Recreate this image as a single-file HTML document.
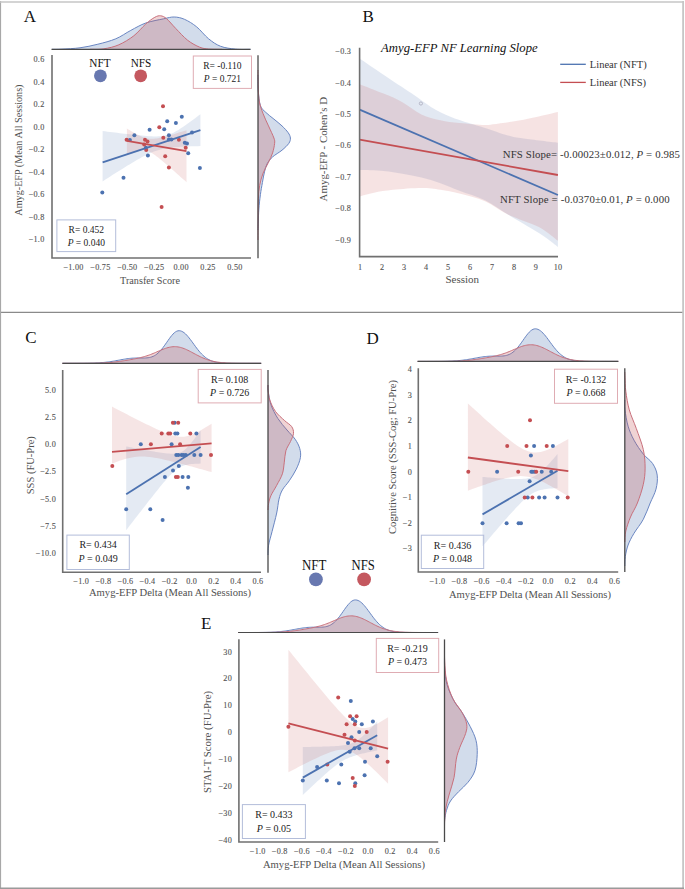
<!DOCTYPE html><html><head><meta charset="utf-8"><style>html,body{margin:0;padding:0;background:#fff;width:685px;height:889px;overflow:hidden}svg{display:block}text{font-family:"Liberation Serif",serif}</style></head><body><svg width="685" height="889" viewBox="0 0 685 889" font-family="Liberation Serif, serif">
<rect x="0" y="0" width="685" height="889" fill="#fff"/>
<text x="23.8" y="21.9" font-size="17" text-anchor="start" fill="#111" >A</text>
<path d="M52,49.3 C53.67,49.27 57.33,49.35 62,49.1 C66.67,48.85 74.02,48.62 80,47.8 C85.98,46.98 91.93,45.7 97.9,44.2 C103.87,42.7 110.32,41.1 115.8,38.8 C121.28,36.5 125.8,33.03 130.8,30.4 C135.8,27.77 140.32,24.93 145.8,23 C151.28,21.07 158.97,19.8 163.7,18.8 C168.43,17.8 170.7,16.9 174.2,17 C177.7,17.1 180.95,17.75 184.7,19.4 C188.45,21.05 192.72,23.67 196.7,26.9 C200.68,30.13 204.62,35.57 208.6,38.8 C212.58,42.03 216.1,44.58 220.6,46.3 C225.1,48.02 230.62,48.6 235.6,49.1 C240.58,49.6 248.02,49.27 250.5,49.3 L250.5,49.3 L52,49.3Z" fill="#4C72B0" fill-opacity="0.25" stroke="none"/>
<path d="M52,49.3 C53.67,49.27 57.33,49.35 62,49.1 C66.67,48.85 74.02,48.62 80,47.8 C85.98,46.98 91.93,45.7 97.9,44.2 C103.87,42.7 110.32,41.1 115.8,38.8 C121.28,36.5 125.8,33.03 130.8,30.4 C135.8,27.77 140.32,24.93 145.8,23 C151.28,21.07 158.97,19.8 163.7,18.8 C168.43,17.8 170.7,16.9 174.2,17 C177.7,17.1 180.95,17.75 184.7,19.4 C188.45,21.05 192.72,23.67 196.7,26.9 C200.68,30.13 204.62,35.57 208.6,38.8 C212.58,42.03 216.1,44.58 220.6,46.3 C225.1,48.02 230.62,48.6 235.6,49.1 C240.58,49.6 248.02,49.27 250.5,49.3" fill="none" stroke="#6a86c2" stroke-width="1.0"/>
<path d="M90,49.3 C92.32,49.22 99.1,49.55 103.9,48.8 C108.7,48.05 113.82,46.97 118.8,44.8 C123.78,42.63 129.3,39.28 133.8,35.8 C138.3,32.32 142.3,26.98 145.8,23.9 C149.3,20.82 152.32,18.65 154.8,17.3 C157.28,15.95 158.72,15.55 160.7,15.8 C162.68,16.05 164.2,16.7 166.7,18.8 C169.2,20.9 172.2,24.82 175.7,28.4 C179.2,31.98 183.7,37.17 187.7,40.3 C191.7,43.43 196.22,45.75 199.7,47.2 C203.18,48.65 204.88,48.65 208.6,49 C212.32,49.35 219.77,49.25 222,49.3 L222,49.3 L90,49.3Z" fill="#C44E52" fill-opacity="0.25" stroke="none"/>
<path d="M90,49.3 C92.32,49.22 99.1,49.55 103.9,48.8 C108.7,48.05 113.82,46.97 118.8,44.8 C123.78,42.63 129.3,39.28 133.8,35.8 C138.3,32.32 142.3,26.98 145.8,23.9 C149.3,20.82 152.32,18.65 154.8,17.3 C157.28,15.95 158.72,15.55 160.7,15.8 C162.68,16.05 164.2,16.7 166.7,18.8 C169.2,20.9 172.2,24.82 175.7,28.4 C179.2,31.98 183.7,37.17 187.7,40.3 C191.7,43.43 196.22,45.75 199.7,47.2 C203.18,48.65 204.88,48.65 208.6,49 C212.32,49.35 219.77,49.25 222,49.3" fill="none" stroke="#c8707c" stroke-width="1.0"/>
<line x1="51.5" y1="49.3" x2="250.5" y2="49.3" stroke="#4a4a4a" stroke-width="1.2" />
<path d="M102.6,131 L105.04,131.31 L107.49,131.63 L109.94,131.94 L112.38,132.25 L114.82,132.55 L117.27,132.86 L119.72,133.16 L122.16,133.45 L124.6,133.75 L127.05,134.04 L129.5,134.32 L131.94,134.59 L134.38,134.86 L136.83,135.12 L139.28,135.37 L141.72,135.6 L144.16,135.82 L146.61,136.01 L149.06,136.18 L151.5,136.3 L153.94,136.39 L156.39,136.41 L158.83,136.34 L161.28,136.17 L163.73,135.85 L166.17,135.36 L168.62,134.66 L171.06,133.75 L173.5,132.64 L175.95,131.34 L178.39,129.91 L180.84,128.36 L183.29,126.73 L185.73,125.04 L188.18,123.3 L190.62,121.53 L193.06,119.73 L195.51,117.9 L197.95,116.06 L200.4,114.2 L200.4,146.1 L197.95,146.15 L195.51,146.21 L193.06,146.27 L190.62,146.35 L188.18,146.43 L185.73,146.53 L183.29,146.65 L180.84,146.78 L178.39,146.94 L175.95,147.12 L173.5,147.34 L171.06,147.61 L168.62,147.92 L166.17,148.3 L163.73,148.75 L161.28,149.3 L158.83,149.94 L156.39,150.69 L153.94,151.55 L151.5,152.52 L149.06,153.59 L146.61,154.75 L144.16,155.99 L141.72,157.28 L139.28,158.63 L136.83,160.02 L134.38,161.45 L131.94,162.9 L129.5,164.38 L127.05,165.87 L124.6,167.39 L122.16,168.91 L119.72,170.45 L117.27,171.99 L114.82,173.55 L112.38,175.11 L109.94,176.67 L107.49,178.24 L105.04,179.82 L102.6,181.4Z" fill="#4C72B0" fill-opacity="0.15"/>
<path d="M126.9,128.5 L128.39,129.43 L129.88,130.34 L131.37,131.24 L132.86,132.12 L134.35,132.97 L135.84,133.8 L137.33,134.59 L138.82,135.34 L140.31,136.04 L141.8,136.68 L143.29,137.25 L144.78,137.74 L146.27,138.14 L147.76,138.44 L149.25,138.64 L150.74,138.75 L152.23,138.77 L153.72,138.7 L155.21,138.57 L156.7,138.38 L158.19,138.14 L159.68,137.87 L161.17,137.55 L162.66,137.22 L164.15,136.85 L165.64,136.47 L167.13,136.08 L168.62,135.67 L170.11,135.25 L171.6,134.82 L173.09,134.38 L174.58,133.93 L176.07,133.48 L177.56,133.02 L179.05,132.56 L180.54,132.1 L182.03,131.63 L183.52,131.15 L185.01,130.68 L186.5,130.2 L186.5,182.2 L185.01,180.87 L183.52,179.54 L182.03,178.21 L180.54,176.88 L179.05,175.56 L177.56,174.24 L176.07,172.92 L174.58,171.6 L173.09,170.29 L171.6,168.99 L170.11,167.68 L168.62,166.39 L167.13,165.1 L165.64,163.82 L164.15,162.55 L162.66,161.29 L161.17,160.05 L159.68,158.82 L158.19,157.62 L156.7,156.45 L155.21,155.31 L153.72,154.23 L152.23,153.21 L150.74,152.27 L149.25,151.45 L147.76,150.76 L146.27,150.25 L144.78,149.92 L143.29,149.8 L141.8,149.85 L140.31,150.07 L138.82,150.42 L137.33,150.87 L135.84,151.39 L134.35,151.98 L132.86,152.6 L131.37,153.27 L129.88,153.96 L128.39,154.67 L126.9,155.4Z" fill="#C44E52" fill-opacity="0.15"/>
<circle cx="102.3" cy="192.6" r="2.0" fill="#4C72B0"/>
<circle cx="123.5" cy="177.7" r="2.0" fill="#4C72B0"/>
<circle cx="134.4" cy="135.2" r="2.0" fill="#4C72B0"/>
<circle cx="129.9" cy="139.9" r="2.0" fill="#4C72B0"/>
<circle cx="149.6" cy="129.7" r="2.0" fill="#4C72B0"/>
<circle cx="147.9" cy="155.4" r="2.0" fill="#4C72B0"/>
<circle cx="145.9" cy="147.8" r="2.0" fill="#4C72B0"/>
<circle cx="167.2" cy="121.3" r="2.0" fill="#4C72B0"/>
<circle cx="164.2" cy="129.3" r="2.0" fill="#4C72B0"/>
<circle cx="175.9" cy="123.1" r="2.0" fill="#4C72B0"/>
<circle cx="181.8" cy="116.8" r="2.0" fill="#4C72B0"/>
<circle cx="168.9" cy="135.2" r="2.0" fill="#4C72B0"/>
<circle cx="168.9" cy="139.4" r="2.0" fill="#4C72B0"/>
<circle cx="171.4" cy="139.4" r="2.0" fill="#4C72B0"/>
<circle cx="192" cy="132.4" r="2.0" fill="#4C72B0"/>
<circle cx="184.8" cy="142.8" r="2.0" fill="#4C72B0"/>
<circle cx="187" cy="143.6" r="2.0" fill="#4C72B0"/>
<circle cx="188.2" cy="153.3" r="2.0" fill="#4C72B0"/>
<circle cx="199.9" cy="168" r="2.0" fill="#4C72B0"/>
<circle cx="163" cy="106.3" r="2.0" fill="#C44E52"/>
<circle cx="159.3" cy="127.3" r="2.0" fill="#C44E52"/>
<circle cx="163.3" cy="137.7" r="2.0" fill="#C44E52"/>
<circle cx="126.6" cy="139.7" r="2.0" fill="#C44E52"/>
<circle cx="145" cy="139.7" r="2.0" fill="#C44E52"/>
<circle cx="147.5" cy="141.6" r="2.0" fill="#C44E52"/>
<circle cx="144.2" cy="144.4" r="2.0" fill="#C44E52"/>
<circle cx="146.2" cy="150" r="2.0" fill="#C44E52"/>
<circle cx="178.9" cy="139.7" r="2.0" fill="#C44E52"/>
<circle cx="185.7" cy="147.8" r="2.0" fill="#C44E52"/>
<circle cx="165.2" cy="156.2" r="2.0" fill="#C44E52"/>
<circle cx="168.9" cy="167.4" r="2.0" fill="#C44E52"/>
<circle cx="161.6" cy="207" r="2.0" fill="#C44E52"/>
<line x1="102.6" y1="162.4" x2="200.4" y2="130.2" stroke="#4C72B0" stroke-width="1.8" />
<line x1="126.9" y1="140.8" x2="186.5" y2="151.2" stroke="#C44E52" stroke-width="1.8" />
<polyline points="52,55 52,258 251,258" fill="none" stroke="#707070" stroke-width="1.6"/>
<path d="M258,75 C258.03,77.5 257.8,84.9 258.2,90 C258.6,95.1 259.13,101.87 260.4,105.6 C261.67,109.33 263.55,110.15 265.8,112.4 C268.05,114.65 271.2,116.85 273.9,119.1 C276.6,121.35 279.63,123.65 282,125.9 C284.37,128.15 286.7,130.58 288.1,132.6 C289.5,134.62 290.28,136.2 290.4,138 C290.52,139.8 290.2,141.37 288.8,143.4 C287.4,145.43 284.7,147.95 282,150.2 C279.3,152.45 275.07,154.65 272.6,156.9 C270.13,159.15 268.55,161.22 267.2,163.7 C265.85,166.18 265.3,168.65 264.5,171.8 C263.7,174.95 263.08,178.78 262.4,182.6 C261.72,186.42 261,190.13 260.4,194.7 C259.8,199.27 259.2,204.12 258.8,210 C258.4,215.88 258.13,226.67 258,230 L258,230 L258,75Z" fill="#4C72B0" fill-opacity="0.25" stroke="none"/>
<path d="M258,75 C258.03,77.5 257.8,84.9 258.2,90 C258.6,95.1 259.13,101.87 260.4,105.6 C261.67,109.33 263.55,110.15 265.8,112.4 C268.05,114.65 271.2,116.85 273.9,119.1 C276.6,121.35 279.63,123.65 282,125.9 C284.37,128.15 286.7,130.58 288.1,132.6 C289.5,134.62 290.28,136.2 290.4,138 C290.52,139.8 290.2,141.37 288.8,143.4 C287.4,145.43 284.7,147.95 282,150.2 C279.3,152.45 275.07,154.65 272.6,156.9 C270.13,159.15 268.55,161.22 267.2,163.7 C265.85,166.18 265.3,168.65 264.5,171.8 C263.7,174.95 263.08,178.78 262.4,182.6 C261.72,186.42 261,190.13 260.4,194.7 C259.8,199.27 259.2,204.12 258.8,210 C258.4,215.88 258.13,226.67 258,230" fill="none" stroke="#6a86c2" stroke-width="1.0"/>
<path d="M258,70 C258.02,71.67 257.92,74.97 258.1,80 C258.28,85.03 258.27,94.58 259.1,100.2 C259.93,105.82 261.53,109.42 263.1,113.7 C264.67,117.98 266.7,121.85 268.5,125.9 C270.3,129.95 272.88,135.08 273.9,138 C274.92,140.92 274.82,140.92 274.6,143.4 C274.38,145.88 273.62,149.75 272.6,152.9 C271.58,156.05 270.08,158.93 268.5,162.3 C266.92,165.67 264.57,169.27 263.1,173.1 C261.63,176.93 260.48,181.02 259.7,185.3 C258.92,189.58 258.67,193.85 258.4,198.8 C258.13,203.75 258.17,208.13 258.1,215 C258.03,221.87 258.02,235.83 258,240 L258,240 L258,70Z" fill="#C44E52" fill-opacity="0.25" stroke="none"/>
<path d="M258,70 C258.02,71.67 257.92,74.97 258.1,80 C258.28,85.03 258.27,94.58 259.1,100.2 C259.93,105.82 261.53,109.42 263.1,113.7 C264.67,117.98 266.7,121.85 268.5,125.9 C270.3,129.95 272.88,135.08 273.9,138 C274.92,140.92 274.82,140.92 274.6,143.4 C274.38,145.88 273.62,149.75 272.6,152.9 C271.58,156.05 270.08,158.93 268.5,162.3 C266.92,165.67 264.57,169.27 263.1,173.1 C261.63,176.93 260.48,181.02 259.7,185.3 C258.92,189.58 258.67,193.85 258.4,198.8 C258.13,203.75 258.17,208.13 258.1,215 C258.03,221.87 258.02,235.83 258,240" fill="none" stroke="#c8707c" stroke-width="1.0"/>
<line x1="258" y1="55.3" x2="258" y2="258.3" stroke="#4a4a4a" stroke-width="1.3" />
<text x="44.5" y="62" font-size="8.2" text-anchor="end" fill="#555" letter-spacing="0.25" stroke="#555" stroke-width="0.12">0.6</text>
<text x="44.5" y="84.5" font-size="8.2" text-anchor="end" fill="#555" letter-spacing="0.25" stroke="#555" stroke-width="0.12">0.4</text>
<text x="44.5" y="107" font-size="8.2" text-anchor="end" fill="#555" letter-spacing="0.25" stroke="#555" stroke-width="0.12">0.2</text>
<text x="44.5" y="129.5" font-size="8.2" text-anchor="end" fill="#555" letter-spacing="0.25" stroke="#555" stroke-width="0.12">0.0</text>
<text x="44.5" y="152" font-size="8.2" text-anchor="end" fill="#555" letter-spacing="0.25" stroke="#555" stroke-width="0.12">−0.2</text>
<text x="44.5" y="174.5" font-size="8.2" text-anchor="end" fill="#555" letter-spacing="0.25" stroke="#555" stroke-width="0.12">−0.4</text>
<text x="44.5" y="197" font-size="8.2" text-anchor="end" fill="#555" letter-spacing="0.25" stroke="#555" stroke-width="0.12">−0.6</text>
<text x="44.5" y="219.5" font-size="8.2" text-anchor="end" fill="#555" letter-spacing="0.25" stroke="#555" stroke-width="0.12">−0.8</text>
<text x="44.5" y="242" font-size="8.2" text-anchor="end" fill="#555" letter-spacing="0.25" stroke="#555" stroke-width="0.12">−1.0</text>
<text x="73.5" y="269.5" font-size="8.2" text-anchor="middle" fill="#555" letter-spacing="0.25" stroke="#555" stroke-width="0.12">−1.00</text>
<text x="100.4" y="269.5" font-size="8.2" text-anchor="middle" fill="#555" letter-spacing="0.25" stroke="#555" stroke-width="0.12">−0.75</text>
<text x="127.3" y="269.5" font-size="8.2" text-anchor="middle" fill="#555" letter-spacing="0.25" stroke="#555" stroke-width="0.12">−0.50</text>
<text x="154.2" y="269.5" font-size="8.2" text-anchor="middle" fill="#555" letter-spacing="0.25" stroke="#555" stroke-width="0.12">−0.25</text>
<text x="181.1" y="269.5" font-size="8.2" text-anchor="middle" fill="#555" letter-spacing="0.25" stroke="#555" stroke-width="0.12">0.00</text>
<text x="208" y="269.5" font-size="8.2" text-anchor="middle" fill="#555" letter-spacing="0.25" stroke="#555" stroke-width="0.12">0.25</text>
<text x="234.9" y="269.5" font-size="8.2" text-anchor="middle" fill="#555" letter-spacing="0.25" stroke="#555" stroke-width="0.12">0.50</text>
<text x="150" y="283.8" font-size="10.2" text-anchor="middle" fill="#505050" >Transfer Score</text>
<text x="0" y="0" font-size="10.2" text-anchor="middle" fill="#505050" transform="translate(22,150.1) rotate(-90)" >Amyg-EFP (Mean All Sessions)</text>
<rect x="193.3" y="56" width="58.2" height="32.4" fill="none" stroke="#dfacb3" stroke-width="1"/>
<text x="222.4" y="69.2" font-size="9.5" text-anchor="middle" fill="#222" >R= -0.110</text>
<text x="222.4" y="81.6" font-size="9.5" text-anchor="middle" fill="#222" ><tspan font-style="italic">P</tspan> = 0.721</text>
<rect x="56.9" y="219.9" width="58.8" height="31.7" fill="none" stroke="#b3bdda" stroke-width="1"/>
<text x="86.3" y="232.8" font-size="9.5" text-anchor="middle" fill="#222" >R= 0.452</text>
<text x="86.3" y="245.6" font-size="9.5" text-anchor="middle" fill="#222" ><tspan font-style="italic">P</tspan> = 0.040</text>
<text x="100" y="66.7" font-size="12.6" text-anchor="middle" fill="#111" textLength="21.3" lengthAdjust="spacingAndGlyphs">NFT</text>
<circle cx="100.4" cy="75.8" r="6.4" fill="#6878b0"/>
<text x="141" y="66.7" font-size="12.6" text-anchor="middle" fill="#111" textLength="20.6" lengthAdjust="spacingAndGlyphs">NFS</text>
<circle cx="140.7" cy="75.8" r="6.4" fill="#c4585f"/>
<text x="362.6" y="21.9" font-size="17" text-anchor="start" fill="#111" >B</text>
<path d="M359.6,58.5 C363.58,61.2 374.78,68.85 383.5,74.7 C392.22,80.55 404,88.23 411.9,93.6 C419.8,98.97 424.57,103.1 430.9,106.9 C437.23,110.7 443.57,113.72 449.9,116.4 C456.23,119.08 463.05,121.07 468.9,123 C474.75,124.93 478.48,125.92 485,128 C491.52,130.08 501.57,133.75 508,135.5 C514.43,137.25 515.28,137.3 523.6,138.5 C531.92,139.7 552.18,142 557.9,142.7 L557.9,246.9 C554.73,244.6 547.17,238.47 538.9,233.1 C530.63,227.73 517.28,220.17 508.3,214.7 C499.32,209.23 493.15,204.28 485,200.3 C476.85,196.32 466.83,193.65 459.4,190.8 C451.97,187.95 446.73,185.42 440.4,183.2 C434.07,180.98 427.73,179.08 421.4,177.5 C415.07,175.92 408.72,174.78 402.4,173.7 C396.08,172.62 390.63,171.62 383.5,171 C376.37,170.38 363.58,170.17 359.6,170Z" fill="#4C72B0" fill-opacity="0.16"/>
<path d="M359.6,84.2 C363.58,85.77 376.37,90.6 383.5,93.6 C390.63,96.6 396.08,98.72 402.4,102.2 C408.72,105.68 415.07,111.5 421.4,114.5 C427.73,117.5 434.07,118.78 440.4,120.2 C446.73,121.62 451.97,122.2 459.4,123 C466.83,123.8 479.4,124.78 485,125 C490.6,125.22 486.57,125.18 493,124.3 C499.43,123.42 512.78,121.75 523.6,119.7 C534.42,117.65 552.18,113.28 557.9,112 L557.9,240.8 C554.73,238.5 547.17,231.35 538.9,227 C530.63,222.65 517.28,219 508.3,214.7 C499.32,210.4 493.15,204.72 485,201.2 C476.85,197.68 466.83,195.5 459.4,193.6 C451.97,191.7 446.73,190.73 440.4,189.8 C434.07,188.87 429.3,188 421.4,188 C413.5,188 400.9,189.02 393,189.8 C385.1,190.58 379.57,191.58 374,192.7 C368.43,193.82 362,195.87 359.6,196.5Z" fill="#C44E52" fill-opacity="0.16"/>
<line x1="359.6" y1="109.6" x2="557.9" y2="195" stroke="#4C72B0" stroke-width="1.8" />
<line x1="359.6" y1="139.6" x2="557.9" y2="175" stroke="#C44E52" stroke-width="1.8" />
<circle cx="420.9" cy="103.5" r="1.6" fill="none" stroke="#aab" stroke-width="0.8"/>
<polyline points="359.6,47.7 359.6,256.6 558,256.6" fill="none" stroke="#707070" stroke-width="1.6"/>
<text x="351.2" y="54.1" font-size="8.2" text-anchor="end" fill="#555" letter-spacing="0.25" stroke="#555" stroke-width="0.12">−0.3</text>
<text x="351.2" y="85.53" font-size="8.2" text-anchor="end" fill="#555" letter-spacing="0.25" stroke="#555" stroke-width="0.12">−0.4</text>
<text x="351.2" y="116.96" font-size="8.2" text-anchor="end" fill="#555" letter-spacing="0.25" stroke="#555" stroke-width="0.12">−0.5</text>
<text x="351.2" y="148.39" font-size="8.2" text-anchor="end" fill="#555" letter-spacing="0.25" stroke="#555" stroke-width="0.12">−0.6</text>
<text x="351.2" y="179.82" font-size="8.2" text-anchor="end" fill="#555" letter-spacing="0.25" stroke="#555" stroke-width="0.12">−0.7</text>
<text x="351.2" y="211.25" font-size="8.2" text-anchor="end" fill="#555" letter-spacing="0.25" stroke="#555" stroke-width="0.12">−0.8</text>
<text x="351.2" y="242.68" font-size="8.2" text-anchor="end" fill="#555" letter-spacing="0.25" stroke="#555" stroke-width="0.12">−0.9</text>
<text x="360.2" y="269.6" font-size="8.2" text-anchor="middle" fill="#555" letter-spacing="0.25" stroke="#555" stroke-width="0.12">1</text>
<text x="382.18" y="269.6" font-size="8.2" text-anchor="middle" fill="#555" letter-spacing="0.25" stroke="#555" stroke-width="0.12">2</text>
<text x="404.16" y="269.6" font-size="8.2" text-anchor="middle" fill="#555" letter-spacing="0.25" stroke="#555" stroke-width="0.12">3</text>
<text x="426.14" y="269.6" font-size="8.2" text-anchor="middle" fill="#555" letter-spacing="0.25" stroke="#555" stroke-width="0.12">4</text>
<text x="448.12" y="269.6" font-size="8.2" text-anchor="middle" fill="#555" letter-spacing="0.25" stroke="#555" stroke-width="0.12">5</text>
<text x="470.1" y="269.6" font-size="8.2" text-anchor="middle" fill="#555" letter-spacing="0.25" stroke="#555" stroke-width="0.12">6</text>
<text x="492.08" y="269.6" font-size="8.2" text-anchor="middle" fill="#555" letter-spacing="0.25" stroke="#555" stroke-width="0.12">7</text>
<text x="514.06" y="269.6" font-size="8.2" text-anchor="middle" fill="#555" letter-spacing="0.25" stroke="#555" stroke-width="0.12">8</text>
<text x="536.04" y="269.6" font-size="8.2" text-anchor="middle" fill="#555" letter-spacing="0.25" stroke="#555" stroke-width="0.12">9</text>
<text x="558.02" y="269.6" font-size="8.2" text-anchor="middle" fill="#555" letter-spacing="0.25" stroke="#555" stroke-width="0.12">10</text>
<text x="462.3" y="283" font-size="11" text-anchor="middle" fill="#505050" >Session</text>
<text x="0" y="0" font-size="10.9" text-anchor="middle" fill="#505050" transform="translate(326.6,149.1) rotate(-90)" >Amyg-EFP - Cohen’s D</text>
<text x="459.4" y="51.9" font-size="12.7" text-anchor="middle" fill="#111" font-style="italic" >Amyg-EFP NF Learning Slope</text>
<line x1="560.2" y1="64.3" x2="585.8" y2="64.3" stroke="#4C72B0" stroke-width="1.3" />
<text x="589.8" y="68.3" font-size="10.5" text-anchor="start" fill="#333" >Linear (NFT)</text>
<line x1="560.2" y1="82.4" x2="585.8" y2="82.4" stroke="#C44E52" stroke-width="1.3" />
<text x="589.8" y="86.4" font-size="10.5" text-anchor="start" fill="#333" >Linear (NFS)</text>
<text x="502.7" y="158" font-size="10.8" text-anchor="start" fill="#333" textLength="177.3">NFS Slope= -0.00023±0.012, <tspan font-style="italic">P</tspan> = 0.985</text>
<text x="500" y="202.6" font-size="10.8" text-anchor="start" fill="#333" textLength="169.6">NFT Slope = -0.0370±0.01, <tspan font-style="italic">P</tspan> = 0.000</text>
<text x="25.2" y="343" font-size="17" text-anchor="start" fill="#111" >C</text>
<path d="M62.4,363.3 L63.64,363.3 L64.89,363.3 L66.13,363.3 L67.37,363.3 L68.61,363.3 L69.86,363.3 L71.1,363.3 L72.34,363.3 L73.58,363.29 L74.83,363.29 L76.07,363.29 L77.31,363.29 L78.55,363.28 L79.8,363.28 L81.04,363.27 L82.28,363.27 L83.52,363.26 L84.77,363.25 L86.01,363.23 L87.25,363.22 L88.49,363.2 L89.73,363.17 L90.98,363.15 L92.22,363.11 L93.46,363.07 L94.7,363.03 L95.95,362.98 L97.19,362.92 L98.43,362.85 L99.67,362.77 L100.92,362.68 L102.16,362.58 L103.4,362.47 L104.64,362.35 L105.89,362.21 L107.13,362.06 L108.37,361.9 L109.61,361.73 L110.86,361.55 L112.1,361.35 L113.34,361.15 L114.58,360.93 L115.83,360.71 L117.07,360.48 L118.31,360.25 L119.55,360.02 L120.8,359.79 L122.04,359.56 L123.28,359.34 L124.53,359.13 L125.77,358.93 L127.01,358.75 L128.25,358.58 L129.5,358.43 L130.74,358.31 L131.98,358.2 L133.22,358.12 L134.47,358.05 L135.71,358.01 L136.95,357.99 L138.19,357.98 L139.44,357.99 L140.68,358 L141.92,358.01 L143.16,358.01 L144.41,358 L145.65,357.95 L146.89,357.87 L148.13,357.73 L149.38,357.52 L150.62,357.24 L151.86,356.85 L153.1,356.36 L154.34,355.75 L155.59,355 L156.83,354.11 L158.07,353.07 L159.31,351.89 L160.56,350.56 L161.8,349.1 L163.04,347.52 L164.28,345.84 L165.53,344.09 L166.77,342.3 L168.01,340.5 L169.25,338.74 L170.5,337.05 L171.74,335.49 L172.98,334.08 L174.22,332.88 L175.47,331.92 L176.71,331.22 L177.95,330.81 L179.19,330.71 L180.44,330.87 L181.68,331.28 L182.92,331.91 L184.16,332.76 L185.41,333.81 L186.65,335.04 L187.89,336.43 L189.13,337.94 L190.38,339.54 L191.62,341.21 L192.86,342.92 L194.1,344.64 L195.35,346.34 L196.59,348.01 L197.83,349.62 L199.07,351.15 L200.32,352.59 L201.56,353.93 L202.8,355.17 L204.04,356.29 L205.29,357.31 L206.53,358.22 L207.77,359.02 L209.01,359.72 L210.26,360.34 L211.5,360.86 L212.74,361.31 L213.98,361.69 L215.23,362 L216.47,362.26 L217.71,362.48 L218.96,362.65 L220.2,362.8 L221.44,362.91 L222.68,363 L223.92,363.07 L225.17,363.13 L226.41,363.17 L227.65,363.2 L228.89,363.23 L230.14,363.25 L231.38,363.26 L232.62,363.27 L233.86,363.28 L235.11,363.29 L236.35,363.29 L237.59,363.29 L238.84,363.3 L240.08,363.3 L241.32,363.3 L242.56,363.3 L243.81,363.3 L245.05,363.3 L246.29,363.3 L247.53,363.3 L248.77,363.3 L250.02,363.3 L251.26,363.3 L252.5,363.3 L253.74,363.3 L254.99,363.3 L256.23,363.3 L257.47,363.3 L258.71,363.3 L259.96,363.3 L261.2,363.3 L261.2,363.3 L62.4,363.3Z" fill="#4C72B0" fill-opacity="0.25"/>
<path d="M62.4,363.3 L63.64,363.3 L64.89,363.3 L66.13,363.3 L67.37,363.3 L68.61,363.3 L69.86,363.3 L71.1,363.3 L72.34,363.3 L73.58,363.29 L74.83,363.29 L76.07,363.29 L77.31,363.29 L78.55,363.28 L79.8,363.28 L81.04,363.27 L82.28,363.27 L83.52,363.26 L84.77,363.25 L86.01,363.23 L87.25,363.22 L88.49,363.2 L89.73,363.17 L90.98,363.15 L92.22,363.11 L93.46,363.07 L94.7,363.03 L95.95,362.98 L97.19,362.92 L98.43,362.85 L99.67,362.77 L100.92,362.68 L102.16,362.58 L103.4,362.47 L104.64,362.35 L105.89,362.21 L107.13,362.06 L108.37,361.9 L109.61,361.73 L110.86,361.55 L112.1,361.35 L113.34,361.15 L114.58,360.93 L115.83,360.71 L117.07,360.48 L118.31,360.25 L119.55,360.02 L120.8,359.79 L122.04,359.56 L123.28,359.34 L124.53,359.13 L125.77,358.93 L127.01,358.75 L128.25,358.58 L129.5,358.43 L130.74,358.31 L131.98,358.2 L133.22,358.12 L134.47,358.05 L135.71,358.01 L136.95,357.99 L138.19,357.98 L139.44,357.99 L140.68,358 L141.92,358.01 L143.16,358.01 L144.41,358 L145.65,357.95 L146.89,357.87 L148.13,357.73 L149.38,357.52 L150.62,357.24 L151.86,356.85 L153.1,356.36 L154.34,355.75 L155.59,355 L156.83,354.11 L158.07,353.07 L159.31,351.89 L160.56,350.56 L161.8,349.1 L163.04,347.52 L164.28,345.84 L165.53,344.09 L166.77,342.3 L168.01,340.5 L169.25,338.74 L170.5,337.05 L171.74,335.49 L172.98,334.08 L174.22,332.88 L175.47,331.92 L176.71,331.22 L177.95,330.81 L179.19,330.71 L180.44,330.87 L181.68,331.28 L182.92,331.91 L184.16,332.76 L185.41,333.81 L186.65,335.04 L187.89,336.43 L189.13,337.94 L190.38,339.54 L191.62,341.21 L192.86,342.92 L194.1,344.64 L195.35,346.34 L196.59,348.01 L197.83,349.62 L199.07,351.15 L200.32,352.59 L201.56,353.93 L202.8,355.17 L204.04,356.29 L205.29,357.31 L206.53,358.22 L207.77,359.02 L209.01,359.72 L210.26,360.34 L211.5,360.86 L212.74,361.31 L213.98,361.69 L215.23,362 L216.47,362.26 L217.71,362.48 L218.96,362.65 L220.2,362.8 L221.44,362.91 L222.68,363 L223.92,363.07 L225.17,363.13 L226.41,363.17 L227.65,363.2 L228.89,363.23 L230.14,363.25 L231.38,363.26 L232.62,363.27 L233.86,363.28 L235.11,363.29 L236.35,363.29 L237.59,363.29 L238.84,363.3 L240.08,363.3 L241.32,363.3 L242.56,363.3 L243.81,363.3 L245.05,363.3 L246.29,363.3 L247.53,363.3 L248.77,363.3 L250.02,363.3 L251.26,363.3 L252.5,363.3 L253.74,363.3 L254.99,363.3 L256.23,363.3 L257.47,363.3 L258.71,363.3 L259.96,363.3 L261.2,363.3" fill="none" stroke="#6a86c2" stroke-width="1.0"/>
<path d="M62.4,363.3 L63.64,363.3 L64.89,363.3 L66.13,363.3 L67.37,363.3 L68.61,363.3 L69.86,363.3 L71.1,363.3 L72.34,363.3 L73.58,363.3 L74.83,363.3 L76.07,363.3 L77.31,363.3 L78.55,363.3 L79.8,363.29 L81.04,363.29 L82.28,363.29 L83.52,363.29 L84.77,363.28 L86.01,363.28 L87.25,363.27 L88.49,363.26 L89.73,363.26 L90.98,363.24 L92.22,363.23 L93.46,363.21 L94.7,363.2 L95.95,363.17 L97.19,363.14 L98.43,363.11 L99.67,363.07 L100.92,363.03 L102.16,362.98 L103.4,362.92 L104.64,362.86 L105.89,362.79 L107.13,362.71 L108.37,362.62 L109.61,362.52 L110.86,362.41 L112.1,362.29 L113.34,362.16 L114.58,362.02 L115.83,361.88 L117.07,361.72 L118.31,361.56 L119.55,361.39 L120.8,361.21 L122.04,361.02 L123.28,360.83 L124.53,360.63 L125.77,360.43 L127.01,360.23 L128.25,360.02 L129.5,359.8 L130.74,359.58 L131.98,359.36 L133.22,359.13 L134.47,358.89 L135.71,358.65 L136.95,358.39 L138.19,358.13 L139.44,357.85 L140.68,357.55 L141.92,357.24 L143.16,356.91 L144.41,356.56 L145.65,356.19 L146.89,355.8 L148.13,355.38 L149.38,354.94 L150.62,354.47 L151.86,353.99 L153.1,353.49 L154.34,352.97 L155.59,352.44 L156.83,351.9 L158.07,351.35 L159.31,350.81 L160.56,350.27 L161.8,349.75 L163.04,349.25 L164.28,348.77 L165.53,348.33 L166.77,347.93 L168.01,347.58 L169.25,347.27 L170.5,347.02 L171.74,346.84 L172.98,346.72 L174.22,346.66 L175.47,346.67 L176.71,346.76 L177.95,346.91 L179.19,347.13 L180.44,347.41 L181.68,347.76 L182.92,348.17 L184.16,348.63 L185.41,349.14 L186.65,349.69 L187.89,350.27 L189.13,350.89 L190.38,351.53 L191.62,352.18 L192.86,352.85 L194.1,353.52 L195.35,354.19 L196.59,354.85 L197.83,355.49 L199.07,356.12 L200.32,356.73 L201.56,357.31 L202.8,357.87 L204.04,358.39 L205.29,358.89 L206.53,359.35 L207.77,359.78 L209.01,360.18 L210.26,360.54 L211.5,360.88 L212.74,361.18 L213.98,361.45 L215.23,361.69 L216.47,361.91 L217.71,362.11 L218.96,362.28 L220.2,362.43 L221.44,362.56 L222.68,362.68 L223.92,362.78 L225.17,362.86 L226.41,362.93 L227.65,363 L228.89,363.05 L230.14,363.09 L231.38,363.13 L232.62,363.16 L233.86,363.19 L235.11,363.21 L236.35,363.23 L237.59,363.24 L238.84,363.25 L240.08,363.26 L241.32,363.27 L242.56,363.28 L243.81,363.28 L245.05,363.29 L246.29,363.29 L247.53,363.29 L248.77,363.29 L250.02,363.3 L251.26,363.3 L252.5,363.3 L253.74,363.3 L254.99,363.3 L256.23,363.3 L257.47,363.3 L258.71,363.3 L259.96,363.3 L261.2,363.3 L261.2,363.3 L62.4,363.3Z" fill="#C44E52" fill-opacity="0.25"/>
<path d="M62.4,363.3 L63.64,363.3 L64.89,363.3 L66.13,363.3 L67.37,363.3 L68.61,363.3 L69.86,363.3 L71.1,363.3 L72.34,363.3 L73.58,363.3 L74.83,363.3 L76.07,363.3 L77.31,363.3 L78.55,363.3 L79.8,363.29 L81.04,363.29 L82.28,363.29 L83.52,363.29 L84.77,363.28 L86.01,363.28 L87.25,363.27 L88.49,363.26 L89.73,363.26 L90.98,363.24 L92.22,363.23 L93.46,363.21 L94.7,363.2 L95.95,363.17 L97.19,363.14 L98.43,363.11 L99.67,363.07 L100.92,363.03 L102.16,362.98 L103.4,362.92 L104.64,362.86 L105.89,362.79 L107.13,362.71 L108.37,362.62 L109.61,362.52 L110.86,362.41 L112.1,362.29 L113.34,362.16 L114.58,362.02 L115.83,361.88 L117.07,361.72 L118.31,361.56 L119.55,361.39 L120.8,361.21 L122.04,361.02 L123.28,360.83 L124.53,360.63 L125.77,360.43 L127.01,360.23 L128.25,360.02 L129.5,359.8 L130.74,359.58 L131.98,359.36 L133.22,359.13 L134.47,358.89 L135.71,358.65 L136.95,358.39 L138.19,358.13 L139.44,357.85 L140.68,357.55 L141.92,357.24 L143.16,356.91 L144.41,356.56 L145.65,356.19 L146.89,355.8 L148.13,355.38 L149.38,354.94 L150.62,354.47 L151.86,353.99 L153.1,353.49 L154.34,352.97 L155.59,352.44 L156.83,351.9 L158.07,351.35 L159.31,350.81 L160.56,350.27 L161.8,349.75 L163.04,349.25 L164.28,348.77 L165.53,348.33 L166.77,347.93 L168.01,347.58 L169.25,347.27 L170.5,347.02 L171.74,346.84 L172.98,346.72 L174.22,346.66 L175.47,346.67 L176.71,346.76 L177.95,346.91 L179.19,347.13 L180.44,347.41 L181.68,347.76 L182.92,348.17 L184.16,348.63 L185.41,349.14 L186.65,349.69 L187.89,350.27 L189.13,350.89 L190.38,351.53 L191.62,352.18 L192.86,352.85 L194.1,353.52 L195.35,354.19 L196.59,354.85 L197.83,355.49 L199.07,356.12 L200.32,356.73 L201.56,357.31 L202.8,357.87 L204.04,358.39 L205.29,358.89 L206.53,359.35 L207.77,359.78 L209.01,360.18 L210.26,360.54 L211.5,360.88 L212.74,361.18 L213.98,361.45 L215.23,361.69 L216.47,361.91 L217.71,362.11 L218.96,362.28 L220.2,362.43 L221.44,362.56 L222.68,362.68 L223.92,362.78 L225.17,362.86 L226.41,362.93 L227.65,363 L228.89,363.05 L230.14,363.09 L231.38,363.13 L232.62,363.16 L233.86,363.19 L235.11,363.21 L236.35,363.23 L237.59,363.24 L238.84,363.25 L240.08,363.26 L241.32,363.27 L242.56,363.28 L243.81,363.28 L245.05,363.29 L246.29,363.29 L247.53,363.29 L248.77,363.29 L250.02,363.3 L251.26,363.3 L252.5,363.3 L253.74,363.3 L254.99,363.3 L256.23,363.3 L257.47,363.3 L258.71,363.3 L259.96,363.3 L261.2,363.3" fill="none" stroke="#c8707c" stroke-width="1.0"/>
<line x1="62.4" y1="363.3" x2="261.2" y2="363.3" stroke="#4a4a4a" stroke-width="1.2" />
<path d="M126.2,446.5 L128.06,446.85 L129.92,447.21 L131.78,447.56 L133.64,447.91 L135.5,448.25 L137.36,448.6 L139.22,448.94 L141.08,449.28 L142.94,449.62 L144.8,449.96 L146.66,450.29 L148.52,450.62 L150.38,450.94 L152.24,451.26 L154.1,451.57 L155.96,451.88 L157.82,452.17 L159.68,452.46 L161.54,452.73 L163.4,452.98 L165.26,453.21 L167.12,453.41 L168.98,453.58 L170.84,453.7 L172.7,453.75 L174.56,453.7 L176.42,453.54 L178.28,453.19 L180.14,452.61 L182,451.72 L183.86,450.5 L185.72,448.95 L187.58,447.11 L189.44,445.04 L191.3,442.81 L193.16,440.46 L195.02,438.02 L196.88,435.52 L198.74,432.98 L200.6,430.4 L200.6,463.6 L198.74,463.65 L196.88,463.72 L195.02,463.82 L193.16,463.95 L191.3,464.12 L189.44,464.35 L187.58,464.64 L185.72,465.03 L183.86,465.54 L182,466.21 L180.14,467.06 L178.28,468.12 L176.42,469.41 L174.56,470.91 L172.7,472.61 L170.84,474.45 L168.98,476.43 L167.12,478.49 L165.26,480.63 L163.4,482.83 L161.54,485.06 L159.68,487.33 L157.82,489.63 L155.96,491.95 L154.1,494.28 L152.24,496.63 L150.38,498.99 L148.52,501.36 L146.66,503.74 L144.8,506.13 L142.94,508.52 L141.08,510.91 L139.22,513.31 L137.36,515.72 L135.5,518.12 L133.64,520.53 L131.78,522.95 L129.92,525.36 L128.06,527.78 L126.2,530.2Z" fill="#4C72B0" fill-opacity="0.15"/>
<path d="M112,406.6 L114.49,407.9 L116.98,409.19 L119.47,410.49 L121.96,411.78 L124.45,413.07 L126.94,414.35 L129.43,415.63 L131.92,416.9 L134.41,418.17 L136.9,419.44 L139.39,420.69 L141.88,421.94 L144.37,423.18 L146.86,424.41 L149.35,425.62 L151.84,426.82 L154.33,428 L156.82,429.16 L159.31,430.28 L161.8,431.37 L164.29,432.42 L166.78,433.4 L169.27,434.32 L171.76,435.13 L174.25,435.82 L176.74,436.35 L179.23,436.68 L181.72,436.78 L184.21,436.63 L186.7,436.21 L189.19,435.55 L191.68,434.67 L194.17,433.62 L196.66,432.43 L199.15,431.13 L201.64,429.75 L204.13,428.3 L206.62,426.81 L209.11,425.27 L211.6,423.7 L211.6,472.1 L209.11,471.41 L206.62,470.71 L204.13,470.02 L201.64,469.34 L199.15,468.65 L196.66,467.97 L194.17,467.29 L191.68,466.61 L189.19,465.94 L186.7,465.28 L184.21,464.62 L181.72,463.96 L179.23,463.32 L176.74,462.68 L174.25,462.05 L171.76,461.43 L169.27,460.83 L166.78,460.24 L164.29,459.67 L161.8,459.12 L159.31,458.61 L156.82,458.12 L154.33,457.68 L151.84,457.29 L149.35,456.96 L146.86,456.7 L144.37,456.53 L141.88,456.46 L139.39,456.51 L136.9,456.68 L134.41,456.97 L131.92,457.38 L129.43,457.91 L126.94,458.53 L124.45,459.24 L121.96,460.01 L119.47,460.85 L116.98,461.73 L114.49,462.65 L112,463.6Z" fill="#C44E52" fill-opacity="0.15"/>
<circle cx="174.6" cy="422.8" r="2.0" fill="#4C72B0"/>
<circle cx="175.3" cy="433.6" r="2.0" fill="#4C72B0"/>
<circle cx="177.4" cy="433.6" r="2.0" fill="#4C72B0"/>
<circle cx="196.4" cy="433.6" r="2.0" fill="#4C72B0"/>
<circle cx="140.8" cy="444.2" r="2.0" fill="#4C72B0"/>
<circle cx="171.6" cy="444.2" r="2.0" fill="#4C72B0"/>
<circle cx="176.3" cy="455" r="2.0" fill="#4C72B0"/>
<circle cx="178.4" cy="455" r="2.0" fill="#4C72B0"/>
<circle cx="181.6" cy="455" r="2.0" fill="#4C72B0"/>
<circle cx="183.5" cy="455" r="2.0" fill="#4C72B0"/>
<circle cx="185.8" cy="455" r="2.0" fill="#4C72B0"/>
<circle cx="194.3" cy="455" r="2.0" fill="#4C72B0"/>
<circle cx="200.6" cy="455" r="2.0" fill="#4C72B0"/>
<circle cx="178.8" cy="465.9" r="2.0" fill="#4C72B0"/>
<circle cx="173" cy="470.6" r="2.0" fill="#4C72B0"/>
<circle cx="164.9" cy="476.9" r="2.0" fill="#4C72B0"/>
<circle cx="182.6" cy="476.9" r="2.0" fill="#4C72B0"/>
<circle cx="188.3" cy="476.9" r="2.0" fill="#4C72B0"/>
<circle cx="187.9" cy="487.7" r="2.0" fill="#4C72B0"/>
<circle cx="126.2" cy="509.3" r="2.0" fill="#4C72B0"/>
<circle cx="150.3" cy="509.3" r="2.0" fill="#4C72B0"/>
<circle cx="162.6" cy="520.1" r="2.0" fill="#4C72B0"/>
<circle cx="172.9" cy="422.8" r="2.0" fill="#C44E52"/>
<circle cx="178.2" cy="422.8" r="2.0" fill="#C44E52"/>
<circle cx="161.7" cy="433.6" r="2.0" fill="#C44E52"/>
<circle cx="168.3" cy="433.6" r="2.0" fill="#C44E52"/>
<circle cx="170.2" cy="433.6" r="2.0" fill="#C44E52"/>
<circle cx="190.3" cy="433.6" r="2.0" fill="#C44E52"/>
<circle cx="150.9" cy="444.2" r="2.0" fill="#C44E52"/>
<circle cx="180.1" cy="444.2" r="2.0" fill="#C44E52"/>
<circle cx="211" cy="455" r="2.0" fill="#C44E52"/>
<circle cx="112.3" cy="465.9" r="2.0" fill="#C44E52"/>
<circle cx="175.9" cy="476.9" r="2.0" fill="#C44E52"/>
<circle cx="177.8" cy="476.9" r="2.0" fill="#C44E52"/>
<line x1="126.2" y1="494.3" x2="200.6" y2="446.9" stroke="#4C72B0" stroke-width="1.8" />
<line x1="112" y1="451.8" x2="211.6" y2="443.3" stroke="#C44E52" stroke-width="1.8" />
<polyline points="62.7,370 62.7,572.3 261,572.3" fill="none" stroke="#707070" stroke-width="1.6"/>
<path d="M268,385 C268.03,385.97 267.72,387.53 268.2,390.8 C268.68,394.07 269.3,400 270.9,404.6 C272.5,409.2 275.12,414.17 277.8,418.4 C280.48,422.63 284.12,426.53 287,430 C289.88,433.47 292.98,436.13 295.1,439.2 C297.22,442.27 298.82,445.33 299.7,448.4 C300.58,451.47 300.97,454.15 300.4,457.6 C299.83,461.05 298.15,465.25 296.3,469.1 C294.45,472.95 291.62,477.23 289.3,480.7 C286.98,484.17 284.12,486.83 282.4,489.9 C280.68,492.97 279.95,495.25 279,499.1 C278.05,502.95 277.85,507.62 276.7,513 C275.55,518.38 273.45,526.03 272.1,531.4 C270.75,536.77 269.28,541.27 268.6,545.2 C267.92,549.13 268.1,553.37 268,555 L268,555 L268,385Z" fill="#4C72B0" fill-opacity="0.25" stroke="none"/>
<path d="M268,385 C268.03,385.97 267.72,387.53 268.2,390.8 C268.68,394.07 269.3,400 270.9,404.6 C272.5,409.2 275.12,414.17 277.8,418.4 C280.48,422.63 284.12,426.53 287,430 C289.88,433.47 292.98,436.13 295.1,439.2 C297.22,442.27 298.82,445.33 299.7,448.4 C300.58,451.47 300.97,454.15 300.4,457.6 C299.83,461.05 298.15,465.25 296.3,469.1 C294.45,472.95 291.62,477.23 289.3,480.7 C286.98,484.17 284.12,486.83 282.4,489.9 C280.68,492.97 279.95,495.25 279,499.1 C278.05,502.95 277.85,507.62 276.7,513 C275.55,518.38 273.45,526.03 272.1,531.4 C270.75,536.77 269.28,541.27 268.6,545.2 C267.92,549.13 268.1,553.37 268,555" fill="none" stroke="#6a86c2" stroke-width="1.0"/>
<path d="M268,385 C268.03,385.97 267.9,388.3 268.2,390.8 C268.5,393.3 268.58,396.55 269.8,400 C271.02,403.45 273.02,408.05 275.5,411.5 C277.98,414.95 282.02,418.2 284.7,420.7 C287.38,423.2 290.13,424.38 291.6,426.5 C293.07,428.62 293.68,430.9 293.5,433.4 C293.32,435.9 291.77,438.62 290.5,441.5 C289.23,444.38 286.93,447.25 285.9,450.7 C284.87,454.15 284.88,458.35 284.3,462.2 C283.72,466.05 283.67,469.95 282.4,473.8 C281.13,477.65 278.62,481.65 276.7,485.3 C274.78,488.95 272.25,492.63 270.9,495.7 C269.55,498.77 269.08,501.32 268.6,503.7 C268.12,506.08 268.1,508.95 268,510 L268,510 L268,385Z" fill="#C44E52" fill-opacity="0.25" stroke="none"/>
<path d="M268,385 C268.03,385.97 267.9,388.3 268.2,390.8 C268.5,393.3 268.58,396.55 269.8,400 C271.02,403.45 273.02,408.05 275.5,411.5 C277.98,414.95 282.02,418.2 284.7,420.7 C287.38,423.2 290.13,424.38 291.6,426.5 C293.07,428.62 293.68,430.9 293.5,433.4 C293.32,435.9 291.77,438.62 290.5,441.5 C289.23,444.38 286.93,447.25 285.9,450.7 C284.87,454.15 284.88,458.35 284.3,462.2 C283.72,466.05 283.67,469.95 282.4,473.8 C281.13,477.65 278.62,481.65 276.7,485.3 C274.78,488.95 272.25,492.63 270.9,495.7 C269.55,498.77 269.08,501.32 268.6,503.7 C268.12,506.08 268.1,508.95 268,510" fill="none" stroke="#c8707c" stroke-width="1.0"/>
<line x1="268" y1="370" x2="268" y2="572.7" stroke="#4a4a4a" stroke-width="1.3" />
<text x="56" y="392.85" font-size="8.2" text-anchor="end" fill="#555" letter-spacing="0.25" stroke="#555" stroke-width="0.12">5.0</text>
<text x="56" y="420.02" font-size="8.2" text-anchor="end" fill="#555" letter-spacing="0.25" stroke="#555" stroke-width="0.12">2.5</text>
<text x="56" y="447.2" font-size="8.2" text-anchor="end" fill="#555" letter-spacing="0.25" stroke="#555" stroke-width="0.12">0.0</text>
<text x="56" y="474.38" font-size="8.2" text-anchor="end" fill="#555" letter-spacing="0.25" stroke="#555" stroke-width="0.12">−2.5</text>
<text x="56" y="501.55" font-size="8.2" text-anchor="end" fill="#555" letter-spacing="0.25" stroke="#555" stroke-width="0.12">−5.0</text>
<text x="56" y="528.73" font-size="8.2" text-anchor="end" fill="#555" letter-spacing="0.25" stroke="#555" stroke-width="0.12">−7.5</text>
<text x="56" y="555.9" font-size="8.2" text-anchor="end" fill="#555" letter-spacing="0.25" stroke="#555" stroke-width="0.12">−10.0</text>
<text x="81.3" y="583.7" font-size="8.2" text-anchor="middle" fill="#555" letter-spacing="0.25" stroke="#555" stroke-width="0.12">−1.0</text>
<text x="103.38" y="583.7" font-size="8.2" text-anchor="middle" fill="#555" letter-spacing="0.25" stroke="#555" stroke-width="0.12">−0.8</text>
<text x="125.46" y="583.7" font-size="8.2" text-anchor="middle" fill="#555" letter-spacing="0.25" stroke="#555" stroke-width="0.12">−0.6</text>
<text x="147.54" y="583.7" font-size="8.2" text-anchor="middle" fill="#555" letter-spacing="0.25" stroke="#555" stroke-width="0.12">−0.4</text>
<text x="169.62" y="583.7" font-size="8.2" text-anchor="middle" fill="#555" letter-spacing="0.25" stroke="#555" stroke-width="0.12">−0.2</text>
<text x="191.7" y="583.7" font-size="8.2" text-anchor="middle" fill="#555" letter-spacing="0.25" stroke="#555" stroke-width="0.12">0.0</text>
<text x="213.78" y="583.7" font-size="8.2" text-anchor="middle" fill="#555" letter-spacing="0.25" stroke="#555" stroke-width="0.12">0.2</text>
<text x="235.86" y="583.7" font-size="8.2" text-anchor="middle" fill="#555" letter-spacing="0.25" stroke="#555" stroke-width="0.12">0.4</text>
<text x="257.94" y="583.7" font-size="8.2" text-anchor="middle" fill="#555" letter-spacing="0.25" stroke="#555" stroke-width="0.12">0.6</text>
<text x="170" y="596.1" font-size="10.6" text-anchor="middle" fill="#505050" >Amyg-EFP Delta (Mean All Sessions)</text>
<text x="0" y="0" font-size="10.5" text-anchor="middle" fill="#505050" transform="translate(33.9,465.2) rotate(-90)" >SSS (FU-Pre)</text>
<rect x="198.2" y="369.4" width="63" height="33.5" fill="none" stroke="#dfacb3" stroke-width="1"/>
<text x="229.7" y="383.2" font-size="10" text-anchor="middle" fill="#222" >R= 0.108</text>
<text x="229.7" y="396.3" font-size="10" text-anchor="middle" fill="#222" ><tspan font-style="italic">P</tspan> = 0.726</text>
<rect x="66.9" y="535.1" width="62.4" height="34.4" fill="none" stroke="#b3bdda" stroke-width="1"/>
<text x="98.1" y="548.2" font-size="10" text-anchor="middle" fill="#222" >R= 0.434</text>
<text x="98.1" y="562" font-size="10" text-anchor="middle" fill="#222" ><tspan font-style="italic">P</tspan> = 0.049</text>
<text x="366.4" y="343.6" font-size="17" text-anchor="start" fill="#111" >D</text>
<path d="M417.6,361.4 L418.85,361.4 L420.11,361.4 L421.36,361.4 L422.62,361.4 L423.87,361.4 L425.13,361.4 L426.38,361.4 L427.63,361.4 L428.89,361.39 L430.14,361.39 L431.4,361.39 L432.65,361.39 L433.91,361.38 L435.16,361.38 L436.42,361.37 L437.67,361.37 L438.92,361.36 L440.18,361.35 L441.43,361.33 L442.69,361.32 L443.94,361.3 L445.2,361.27 L446.45,361.25 L447.71,361.21 L448.96,361.17 L450.21,361.13 L451.47,361.08 L452.72,361.02 L453.98,360.95 L455.23,360.87 L456.49,360.78 L457.74,360.68 L458.99,360.57 L460.25,360.45 L461.5,360.31 L462.76,360.16 L464.01,360 L465.27,359.83 L466.52,359.65 L467.77,359.45 L469.03,359.25 L470.28,359.03 L471.54,358.81 L472.79,358.58 L474.05,358.35 L475.3,358.12 L476.56,357.89 L477.81,357.66 L479.06,357.44 L480.32,357.23 L481.57,357.03 L482.83,356.85 L484.08,356.68 L485.34,356.53 L486.59,356.41 L487.85,356.3 L489.1,356.22 L490.35,356.15 L491.61,356.11 L492.86,356.09 L494.12,356.08 L495.37,356.09 L496.63,356.1 L497.88,356.11 L499.13,356.11 L500.39,356.1 L501.64,356.05 L502.9,355.97 L504.15,355.83 L505.41,355.62 L506.66,355.34 L507.91,354.95 L509.17,354.46 L510.42,353.85 L511.68,353.1 L512.93,352.21 L514.19,351.17 L515.44,349.99 L516.7,348.66 L517.95,347.2 L519.2,345.62 L520.46,343.94 L521.71,342.19 L522.97,340.4 L524.22,338.6 L525.48,336.84 L526.73,335.15 L527.99,333.59 L529.24,332.18 L530.49,330.98 L531.75,330.02 L533,329.32 L534.26,328.91 L535.51,328.81 L536.77,328.97 L538.02,329.38 L539.27,330.01 L540.53,330.86 L541.78,331.91 L543.04,333.14 L544.29,334.53 L545.55,336.04 L546.8,337.64 L548.05,339.31 L549.31,341.02 L550.56,342.74 L551.82,344.44 L553.07,346.11 L554.33,347.72 L555.58,349.25 L556.84,350.69 L558.09,352.03 L559.34,353.27 L560.6,354.39 L561.85,355.41 L563.11,356.32 L564.36,357.12 L565.62,357.82 L566.87,358.44 L568.12,358.96 L569.38,359.41 L570.63,359.79 L571.89,360.1 L573.14,360.36 L574.4,360.58 L575.65,360.75 L576.91,360.9 L578.16,361.01 L579.41,361.1 L580.67,361.17 L581.92,361.23 L583.18,361.27 L584.43,361.3 L585.69,361.33 L586.94,361.35 L588.19,361.36 L589.45,361.37 L590.7,361.38 L591.96,361.39 L593.21,361.39 L594.47,361.39 L595.72,361.4 L596.98,361.4 L598.23,361.4 L599.48,361.4 L600.74,361.4 L601.99,361.4 L603.25,361.4 L604.5,361.4 L605.76,361.4 L607.01,361.4 L608.26,361.4 L609.52,361.4 L610.77,361.4 L612.03,361.4 L613.28,361.4 L614.54,361.4 L615.79,361.4 L617.05,361.4 L618.3,361.4 L618.3,361.4 L417.6,361.4Z" fill="#4C72B0" fill-opacity="0.25"/>
<path d="M417.6,361.4 L418.85,361.4 L420.11,361.4 L421.36,361.4 L422.62,361.4 L423.87,361.4 L425.13,361.4 L426.38,361.4 L427.63,361.4 L428.89,361.39 L430.14,361.39 L431.4,361.39 L432.65,361.39 L433.91,361.38 L435.16,361.38 L436.42,361.37 L437.67,361.37 L438.92,361.36 L440.18,361.35 L441.43,361.33 L442.69,361.32 L443.94,361.3 L445.2,361.27 L446.45,361.25 L447.71,361.21 L448.96,361.17 L450.21,361.13 L451.47,361.08 L452.72,361.02 L453.98,360.95 L455.23,360.87 L456.49,360.78 L457.74,360.68 L458.99,360.57 L460.25,360.45 L461.5,360.31 L462.76,360.16 L464.01,360 L465.27,359.83 L466.52,359.65 L467.77,359.45 L469.03,359.25 L470.28,359.03 L471.54,358.81 L472.79,358.58 L474.05,358.35 L475.3,358.12 L476.56,357.89 L477.81,357.66 L479.06,357.44 L480.32,357.23 L481.57,357.03 L482.83,356.85 L484.08,356.68 L485.34,356.53 L486.59,356.41 L487.85,356.3 L489.1,356.22 L490.35,356.15 L491.61,356.11 L492.86,356.09 L494.12,356.08 L495.37,356.09 L496.63,356.1 L497.88,356.11 L499.13,356.11 L500.39,356.1 L501.64,356.05 L502.9,355.97 L504.15,355.83 L505.41,355.62 L506.66,355.34 L507.91,354.95 L509.17,354.46 L510.42,353.85 L511.68,353.1 L512.93,352.21 L514.19,351.17 L515.44,349.99 L516.7,348.66 L517.95,347.2 L519.2,345.62 L520.46,343.94 L521.71,342.19 L522.97,340.4 L524.22,338.6 L525.48,336.84 L526.73,335.15 L527.99,333.59 L529.24,332.18 L530.49,330.98 L531.75,330.02 L533,329.32 L534.26,328.91 L535.51,328.81 L536.77,328.97 L538.02,329.38 L539.27,330.01 L540.53,330.86 L541.78,331.91 L543.04,333.14 L544.29,334.53 L545.55,336.04 L546.8,337.64 L548.05,339.31 L549.31,341.02 L550.56,342.74 L551.82,344.44 L553.07,346.11 L554.33,347.72 L555.58,349.25 L556.84,350.69 L558.09,352.03 L559.34,353.27 L560.6,354.39 L561.85,355.41 L563.11,356.32 L564.36,357.12 L565.62,357.82 L566.87,358.44 L568.12,358.96 L569.38,359.41 L570.63,359.79 L571.89,360.1 L573.14,360.36 L574.4,360.58 L575.65,360.75 L576.91,360.9 L578.16,361.01 L579.41,361.1 L580.67,361.17 L581.92,361.23 L583.18,361.27 L584.43,361.3 L585.69,361.33 L586.94,361.35 L588.19,361.36 L589.45,361.37 L590.7,361.38 L591.96,361.39 L593.21,361.39 L594.47,361.39 L595.72,361.4 L596.98,361.4 L598.23,361.4 L599.48,361.4 L600.74,361.4 L601.99,361.4 L603.25,361.4 L604.5,361.4 L605.76,361.4 L607.01,361.4 L608.26,361.4 L609.52,361.4 L610.77,361.4 L612.03,361.4 L613.28,361.4 L614.54,361.4 L615.79,361.4 L617.05,361.4 L618.3,361.4" fill="none" stroke="#6a86c2" stroke-width="1.0"/>
<path d="M417.6,361.4 L418.85,361.4 L420.11,361.4 L421.36,361.4 L422.62,361.4 L423.87,361.4 L425.13,361.4 L426.38,361.4 L427.63,361.4 L428.89,361.4 L430.14,361.4 L431.4,361.4 L432.65,361.4 L433.91,361.4 L435.16,361.39 L436.42,361.39 L437.67,361.39 L438.92,361.39 L440.18,361.38 L441.43,361.38 L442.69,361.37 L443.94,361.36 L445.2,361.36 L446.45,361.34 L447.71,361.33 L448.96,361.31 L450.21,361.3 L451.47,361.27 L452.72,361.24 L453.98,361.21 L455.23,361.17 L456.49,361.13 L457.74,361.08 L458.99,361.02 L460.25,360.96 L461.5,360.89 L462.76,360.81 L464.01,360.72 L465.27,360.62 L466.52,360.51 L467.77,360.39 L469.03,360.26 L470.28,360.12 L471.54,359.98 L472.79,359.82 L474.05,359.66 L475.3,359.49 L476.56,359.31 L477.81,359.12 L479.06,358.93 L480.32,358.73 L481.57,358.53 L482.83,358.33 L484.08,358.12 L485.34,357.9 L486.59,357.68 L487.85,357.46 L489.1,357.23 L490.35,356.99 L491.61,356.75 L492.86,356.49 L494.12,356.23 L495.37,355.95 L496.63,355.65 L497.88,355.34 L499.13,355.01 L500.39,354.66 L501.64,354.29 L502.9,353.9 L504.15,353.48 L505.41,353.04 L506.66,352.57 L507.91,352.09 L509.17,351.59 L510.42,351.07 L511.68,350.54 L512.93,350 L514.19,349.45 L515.44,348.91 L516.7,348.37 L517.95,347.85 L519.2,347.35 L520.46,346.87 L521.71,346.43 L522.97,346.03 L524.22,345.68 L525.48,345.37 L526.73,345.12 L527.99,344.94 L529.24,344.82 L530.49,344.76 L531.75,344.77 L533,344.86 L534.26,345.01 L535.51,345.23 L536.77,345.51 L538.02,345.86 L539.27,346.27 L540.53,346.73 L541.78,347.24 L543.04,347.79 L544.29,348.37 L545.55,348.99 L546.8,349.63 L548.05,350.28 L549.31,350.95 L550.56,351.62 L551.82,352.29 L553.07,352.95 L554.33,353.59 L555.58,354.22 L556.84,354.83 L558.09,355.41 L559.34,355.97 L560.6,356.49 L561.85,356.99 L563.11,357.45 L564.36,357.88 L565.62,358.28 L566.87,358.64 L568.12,358.98 L569.38,359.28 L570.63,359.55 L571.89,359.79 L573.14,360.01 L574.4,360.21 L575.65,360.38 L576.91,360.53 L578.16,360.66 L579.41,360.78 L580.67,360.88 L581.92,360.96 L583.18,361.03 L584.43,361.1 L585.69,361.15 L586.94,361.19 L588.19,361.23 L589.45,361.26 L590.7,361.29 L591.96,361.31 L593.21,361.33 L594.47,361.34 L595.72,361.35 L596.98,361.36 L598.23,361.37 L599.48,361.38 L600.74,361.38 L601.99,361.39 L603.25,361.39 L604.5,361.39 L605.76,361.39 L607.01,361.4 L608.26,361.4 L609.52,361.4 L610.77,361.4 L612.03,361.4 L613.28,361.4 L614.54,361.4 L615.79,361.4 L617.05,361.4 L618.3,361.4 L618.3,361.4 L417.6,361.4Z" fill="#C44E52" fill-opacity="0.25"/>
<path d="M417.6,361.4 L418.85,361.4 L420.11,361.4 L421.36,361.4 L422.62,361.4 L423.87,361.4 L425.13,361.4 L426.38,361.4 L427.63,361.4 L428.89,361.4 L430.14,361.4 L431.4,361.4 L432.65,361.4 L433.91,361.4 L435.16,361.39 L436.42,361.39 L437.67,361.39 L438.92,361.39 L440.18,361.38 L441.43,361.38 L442.69,361.37 L443.94,361.36 L445.2,361.36 L446.45,361.34 L447.71,361.33 L448.96,361.31 L450.21,361.3 L451.47,361.27 L452.72,361.24 L453.98,361.21 L455.23,361.17 L456.49,361.13 L457.74,361.08 L458.99,361.02 L460.25,360.96 L461.5,360.89 L462.76,360.81 L464.01,360.72 L465.27,360.62 L466.52,360.51 L467.77,360.39 L469.03,360.26 L470.28,360.12 L471.54,359.98 L472.79,359.82 L474.05,359.66 L475.3,359.49 L476.56,359.31 L477.81,359.12 L479.06,358.93 L480.32,358.73 L481.57,358.53 L482.83,358.33 L484.08,358.12 L485.34,357.9 L486.59,357.68 L487.85,357.46 L489.1,357.23 L490.35,356.99 L491.61,356.75 L492.86,356.49 L494.12,356.23 L495.37,355.95 L496.63,355.65 L497.88,355.34 L499.13,355.01 L500.39,354.66 L501.64,354.29 L502.9,353.9 L504.15,353.48 L505.41,353.04 L506.66,352.57 L507.91,352.09 L509.17,351.59 L510.42,351.07 L511.68,350.54 L512.93,350 L514.19,349.45 L515.44,348.91 L516.7,348.37 L517.95,347.85 L519.2,347.35 L520.46,346.87 L521.71,346.43 L522.97,346.03 L524.22,345.68 L525.48,345.37 L526.73,345.12 L527.99,344.94 L529.24,344.82 L530.49,344.76 L531.75,344.77 L533,344.86 L534.26,345.01 L535.51,345.23 L536.77,345.51 L538.02,345.86 L539.27,346.27 L540.53,346.73 L541.78,347.24 L543.04,347.79 L544.29,348.37 L545.55,348.99 L546.8,349.63 L548.05,350.28 L549.31,350.95 L550.56,351.62 L551.82,352.29 L553.07,352.95 L554.33,353.59 L555.58,354.22 L556.84,354.83 L558.09,355.41 L559.34,355.97 L560.6,356.49 L561.85,356.99 L563.11,357.45 L564.36,357.88 L565.62,358.28 L566.87,358.64 L568.12,358.98 L569.38,359.28 L570.63,359.55 L571.89,359.79 L573.14,360.01 L574.4,360.21 L575.65,360.38 L576.91,360.53 L578.16,360.66 L579.41,360.78 L580.67,360.88 L581.92,360.96 L583.18,361.03 L584.43,361.1 L585.69,361.15 L586.94,361.19 L588.19,361.23 L589.45,361.26 L590.7,361.29 L591.96,361.31 L593.21,361.33 L594.47,361.34 L595.72,361.35 L596.98,361.36 L598.23,361.37 L599.48,361.38 L600.74,361.38 L601.99,361.39 L603.25,361.39 L604.5,361.39 L605.76,361.39 L607.01,361.4 L608.26,361.4 L609.52,361.4 L610.77,361.4 L612.03,361.4 L613.28,361.4 L614.54,361.4 L615.79,361.4 L617.05,361.4 L618.3,361.4" fill="none" stroke="#c8707c" stroke-width="1.0"/>
<line x1="417.6" y1="361.4" x2="618.3" y2="361.4" stroke="#4a4a4a" stroke-width="1.2" />
<path d="M482.5,476.9 L484.38,477.06 L486.25,477.23 L488.12,477.39 L490,477.54 L491.88,477.7 L493.75,477.85 L495.62,478 L497.5,478.14 L499.38,478.27 L501.25,478.41 L503.12,478.53 L505,478.65 L506.88,478.76 L508.75,478.85 L510.62,478.94 L512.5,479.01 L514.38,479.06 L516.25,479.09 L518.12,479.09 L520,479.05 L521.88,478.98 L523.75,478.85 L525.62,478.65 L527.5,478.36 L529.38,477.97 L531.25,477.44 L533.12,476.74 L535,475.85 L536.88,474.76 L538.75,473.47 L540.62,471.99 L542.5,470.35 L544.38,468.56 L546.25,466.67 L548.12,464.69 L550,462.64 L551.88,460.54 L553.75,458.39 L555.62,456.21 L557.5,454 L557.5,488.2 L555.62,488.27 L553.75,488.36 L551.88,488.47 L550,488.62 L548.12,488.79 L546.25,489.01 L544.38,489.29 L542.5,489.63 L540.62,490.06 L538.75,490.59 L536.88,491.24 L535,492.03 L533.12,492.98 L531.25,494.1 L529.38,495.38 L527.5,496.81 L525.62,498.38 L523.75,500.07 L521.88,501.85 L520,503.71 L518.12,505.64 L516.25,507.61 L514.38,509.63 L512.5,511.67 L510.62,513.75 L508.75,515.84 L506.88,517.96 L505,520.09 L503.12,522.23 L501.25,524.39 L499.38,526.55 L497.5,528.73 L495.62,530.91 L493.75,533.09 L491.88,535.28 L490,537.48 L488.12,539.68 L486.25,541.88 L484.38,544.09 L482.5,546.3Z" fill="#4C72B0" fill-opacity="0.15"/>
<path d="M467.9,403.4 L470.41,405.7 L472.92,408 L475.43,410.3 L477.94,412.58 L480.45,414.86 L482.96,417.13 L485.47,419.38 L487.98,421.63 L490.49,423.86 L493,426.07 L495.51,428.27 L498.02,430.44 L500.53,432.59 L503.04,434.7 L505.55,436.78 L508.06,438.8 L510.57,440.77 L513.08,442.67 L515.59,444.48 L518.1,446.18 L520.61,447.75 L523.12,449.15 L525.63,450.35 L528.14,451.3 L530.65,451.99 L533.16,452.39 L535.67,452.5 L538.18,452.32 L540.69,451.9 L543.2,451.26 L545.71,450.44 L548.22,449.47 L550.73,448.38 L553.24,447.2 L555.75,445.94 L558.26,444.61 L560.77,443.24 L563.28,441.83 L565.79,440.38 L568.3,438.9 L568.3,496.4 L565.79,494.85 L563.28,493.32 L560.77,491.8 L558.26,490.31 L555.75,488.84 L553.24,487.4 L550.73,486 L548.22,484.65 L545.71,483.34 L543.2,482.1 L540.69,480.93 L538.18,479.85 L535.67,478.88 L533.16,478.03 L530.65,477.33 L528.14,476.77 L525.63,476.38 L523.12,476.15 L520.61,476.09 L518.1,476.17 L515.59,476.39 L513.08,476.72 L510.57,477.15 L508.06,477.66 L505.55,478.25 L503.04,478.89 L500.53,479.58 L498.02,480.31 L495.51,481.08 L493,481.87 L490.49,482.69 L487.98,483.53 L485.47,484.38 L482.96,485.25 L480.45,486.14 L477.94,487.03 L475.43,487.94 L472.92,488.85 L470.41,489.77 L467.9,490.7Z" fill="#C44E52" fill-opacity="0.15"/>
<circle cx="534.1" cy="446.1" r="2.0" fill="#4C72B0"/>
<circle cx="552.9" cy="446.1" r="2.0" fill="#4C72B0"/>
<circle cx="530.9" cy="455.6" r="2.0" fill="#4C72B0"/>
<circle cx="497.1" cy="471.7" r="2.0" fill="#4C72B0"/>
<circle cx="531.3" cy="471.7" r="2.0" fill="#4C72B0"/>
<circle cx="532.8" cy="471.7" r="2.0" fill="#4C72B0"/>
<circle cx="534.7" cy="471.7" r="2.0" fill="#4C72B0"/>
<circle cx="541.7" cy="471.7" r="2.0" fill="#4C72B0"/>
<circle cx="551.2" cy="471.7" r="2.0" fill="#4C72B0"/>
<circle cx="529.6" cy="481.2" r="2.0" fill="#4C72B0"/>
<circle cx="527.7" cy="497.6" r="2.0" fill="#4C72B0"/>
<circle cx="539.1" cy="497.6" r="2.0" fill="#4C72B0"/>
<circle cx="544.6" cy="497.6" r="2.0" fill="#4C72B0"/>
<circle cx="557.5" cy="497.6" r="2.0" fill="#4C72B0"/>
<circle cx="482.5" cy="523.2" r="2.0" fill="#4C72B0"/>
<circle cx="506.6" cy="523.2" r="2.0" fill="#4C72B0"/>
<circle cx="518.6" cy="523.2" r="2.0" fill="#4C72B0"/>
<circle cx="521" cy="523.2" r="2.0" fill="#4C72B0"/>
<circle cx="530" cy="420.3" r="2.0" fill="#C44E52"/>
<circle cx="507.2" cy="446.1" r="2.0" fill="#C44E52"/>
<circle cx="526.5" cy="446.1" r="2.0" fill="#C44E52"/>
<circle cx="546.7" cy="446.1" r="2.0" fill="#C44E52"/>
<circle cx="468.3" cy="471.7" r="2.0" fill="#C44E52"/>
<circle cx="518.2" cy="471.7" r="2.0" fill="#C44E52"/>
<circle cx="536.2" cy="471.7" r="2.0" fill="#C44E52"/>
<circle cx="524.7" cy="497.6" r="2.0" fill="#C44E52"/>
<circle cx="532.4" cy="497.6" r="2.0" fill="#C44E52"/>
<circle cx="567.7" cy="497.6" r="2.0" fill="#C44E52"/>
<line x1="482.5" y1="514.4" x2="557.5" y2="470.8" stroke="#4C72B0" stroke-width="1.8" />
<line x1="467.9" y1="457.5" x2="568.3" y2="471.2" stroke="#C44E52" stroke-width="1.8" />
<polyline points="418.3,368.3 418.3,572 618.2,572" fill="none" stroke="#707070" stroke-width="1.6"/>
<path d="M624.8,400 C624.83,401.65 624.45,405.53 625,409.9 C625.55,414.27 626.6,421.15 628.1,426.2 C629.6,431.25 631.47,435.55 634,440.2 C636.53,444.85 640.2,450.22 643.3,454.1 C646.4,457.98 650.28,460 652.6,463.5 C654.92,467 656.63,470.83 657.2,475.1 C657.77,479.37 657.17,484.45 656,489.1 C654.83,493.75 652.32,497.97 650.2,503 C648.08,508.03 646,514.25 643.3,519.3 C640.6,524.35 636.53,529.02 634,533.3 C631.47,537.58 629.55,541.12 628.1,545 C626.65,548.88 625.85,553.1 625.3,556.6 C624.75,560.1 624.88,564.43 624.8,566 L624.8,566 L624.8,400Z" fill="#4C72B0" fill-opacity="0.25" stroke="none"/>
<path d="M624.8,400 C624.83,401.65 624.45,405.53 625,409.9 C625.55,414.27 626.6,421.15 628.1,426.2 C629.6,431.25 631.47,435.55 634,440.2 C636.53,444.85 640.2,450.22 643.3,454.1 C646.4,457.98 650.28,460 652.6,463.5 C654.92,467 656.63,470.83 657.2,475.1 C657.77,479.37 657.17,484.45 656,489.1 C654.83,493.75 652.32,497.97 650.2,503 C648.08,508.03 646,514.25 643.3,519.3 C640.6,524.35 636.53,529.02 634,533.3 C631.47,537.58 629.55,541.12 628.1,545 C626.65,548.88 625.85,553.1 625.3,556.6 C624.75,560.1 624.88,564.43 624.8,566" fill="none" stroke="#6a86c2" stroke-width="1.0"/>
<path d="M624.8,372 C624.83,372.88 624.83,374.08 625,377.3 C625.17,380.52 625.08,385.87 625.8,391.3 C626.52,396.73 627.55,403.7 629.3,409.9 C631.05,416.1 633.97,421.9 636.3,428.5 C638.63,435.1 641.83,442.9 643.3,449.5 C644.77,456.1 645.1,462.28 645.1,468.1 C645.1,473.92 644.58,478.58 643.3,484.4 C642.02,490.22 639.53,497.57 637.4,503 C635.27,508.43 632.43,512.33 630.5,517 C628.57,521.67 626.75,526.83 625.8,531 C624.85,535.17 624.97,540.17 624.8,542 L624.8,542 L624.8,372Z" fill="#C44E52" fill-opacity="0.25" stroke="none"/>
<path d="M624.8,372 C624.83,372.88 624.83,374.08 625,377.3 C625.17,380.52 625.08,385.87 625.8,391.3 C626.52,396.73 627.55,403.7 629.3,409.9 C631.05,416.1 633.97,421.9 636.3,428.5 C638.63,435.1 641.83,442.9 643.3,449.5 C644.77,456.1 645.1,462.28 645.1,468.1 C645.1,473.92 644.58,478.58 643.3,484.4 C642.02,490.22 639.53,497.57 637.4,503 C635.27,508.43 632.43,512.33 630.5,517 C628.57,521.67 626.75,526.83 625.8,531 C624.85,535.17 624.97,540.17 624.8,542" fill="none" stroke="#c8707c" stroke-width="1.0"/>
<line x1="624.8" y1="368.2" x2="624.8" y2="572" stroke="#4a4a4a" stroke-width="1.3" />
<text x="412" y="372.1" font-size="8.2" text-anchor="end" fill="#555" letter-spacing="0.25" stroke="#555" stroke-width="0.12">4</text>
<text x="412" y="397.7" font-size="8.2" text-anchor="end" fill="#555" letter-spacing="0.25" stroke="#555" stroke-width="0.12">3</text>
<text x="412" y="423.3" font-size="8.2" text-anchor="end" fill="#555" letter-spacing="0.25" stroke="#555" stroke-width="0.12">2</text>
<text x="412" y="448.9" font-size="8.2" text-anchor="end" fill="#555" letter-spacing="0.25" stroke="#555" stroke-width="0.12">1</text>
<text x="412" y="474.5" font-size="8.2" text-anchor="end" fill="#555" letter-spacing="0.25" stroke="#555" stroke-width="0.12">0</text>
<text x="412" y="500.1" font-size="8.2" text-anchor="end" fill="#555" letter-spacing="0.25" stroke="#555" stroke-width="0.12">−1</text>
<text x="412" y="525.7" font-size="8.2" text-anchor="end" fill="#555" letter-spacing="0.25" stroke="#555" stroke-width="0.12">−2</text>
<text x="412" y="551.3" font-size="8.2" text-anchor="end" fill="#555" letter-spacing="0.25" stroke="#555" stroke-width="0.12">−3</text>
<text x="437.4" y="583.7" font-size="8.2" text-anchor="middle" fill="#555" letter-spacing="0.25" stroke="#555" stroke-width="0.12">−1.0</text>
<text x="459.54" y="583.7" font-size="8.2" text-anchor="middle" fill="#555" letter-spacing="0.25" stroke="#555" stroke-width="0.12">−0.8</text>
<text x="481.68" y="583.7" font-size="8.2" text-anchor="middle" fill="#555" letter-spacing="0.25" stroke="#555" stroke-width="0.12">−0.6</text>
<text x="503.82" y="583.7" font-size="8.2" text-anchor="middle" fill="#555" letter-spacing="0.25" stroke="#555" stroke-width="0.12">−0.4</text>
<text x="525.96" y="583.7" font-size="8.2" text-anchor="middle" fill="#555" letter-spacing="0.25" stroke="#555" stroke-width="0.12">−0.2</text>
<text x="548.1" y="583.7" font-size="8.2" text-anchor="middle" fill="#555" letter-spacing="0.25" stroke="#555" stroke-width="0.12">0.0</text>
<text x="570.24" y="583.7" font-size="8.2" text-anchor="middle" fill="#555" letter-spacing="0.25" stroke="#555" stroke-width="0.12">0.2</text>
<text x="592.38" y="583.7" font-size="8.2" text-anchor="middle" fill="#555" letter-spacing="0.25" stroke="#555" stroke-width="0.12">0.4</text>
<text x="614.52" y="583.7" font-size="8.2" text-anchor="middle" fill="#555" letter-spacing="0.25" stroke="#555" stroke-width="0.12">0.6</text>
<text x="530" y="597.6" font-size="10.6" text-anchor="middle" fill="#505050" >Amyg-EFP Delta (Mean All Sessions)</text>
<text x="0" y="0" font-size="10.6" text-anchor="middle" fill="#505050" transform="translate(395.5,457) rotate(-90)" >Cognitive Score (SSS-Cog; FU-Pre)</text>
<rect x="554.5" y="369.2" width="63" height="34.1" fill="none" stroke="#dfacb3" stroke-width="1"/>
<text x="586" y="382.8" font-size="10" text-anchor="middle" fill="#222" >R= -0.132</text>
<text x="586" y="396.3" font-size="10" text-anchor="middle" fill="#222" ><tspan font-style="italic">P</tspan> = 0.668</text>
<rect x="421.3" y="535.2" width="62.4" height="33.3" fill="none" stroke="#b3bdda" stroke-width="1"/>
<text x="452.5" y="549" font-size="10" text-anchor="middle" fill="#222" >R= 0.436</text>
<text x="452.5" y="562.1" font-size="10" text-anchor="middle" fill="#222" ><tspan font-style="italic">P</tspan> = 0.048</text>
<text x="201" y="629" font-size="17" text-anchor="start" fill="#111" >E</text>
<text x="314.1" y="569.5" font-size="14.2" text-anchor="middle" fill="#111" textLength="24.3" lengthAdjust="spacingAndGlyphs">NFT</text>
<circle cx="315.9" cy="579.4" r="6.9" fill="#6878b0"/>
<text x="363.2" y="569.5" font-size="14.2" text-anchor="middle" fill="#111" textLength="23.2" lengthAdjust="spacingAndGlyphs">NFS</text>
<circle cx="364.1" cy="579.4" r="6.9" fill="#c4585f"/>
<path d="M238.1,632.5 L239.35,632.5 L240.6,632.5 L241.85,632.5 L243.1,632.5 L244.35,632.5 L245.6,632.5 L246.85,632.5 L248.1,632.5 L249.35,632.49 L250.6,632.49 L251.85,632.49 L253.1,632.49 L254.35,632.48 L255.6,632.48 L256.85,632.47 L258.1,632.47 L259.35,632.46 L260.6,632.45 L261.85,632.43 L263.1,632.42 L264.35,632.4 L265.6,632.37 L266.85,632.35 L268.1,632.31 L269.35,632.27 L270.6,632.23 L271.85,632.18 L273.1,632.12 L274.35,632.05 L275.6,631.97 L276.85,631.88 L278.1,631.78 L279.35,631.67 L280.6,631.55 L281.85,631.41 L283.1,631.26 L284.35,631.1 L285.6,630.93 L286.85,630.75 L288.1,630.55 L289.35,630.35 L290.6,630.13 L291.85,629.91 L293.1,629.68 L294.35,629.45 L295.6,629.22 L296.85,628.99 L298.1,628.76 L299.35,628.54 L300.6,628.33 L301.85,628.13 L303.1,627.95 L304.35,627.78 L305.6,627.63 L306.85,627.51 L308.1,627.4 L309.35,627.32 L310.6,627.25 L311.85,627.21 L313.1,627.19 L314.35,627.18 L315.6,627.19 L316.85,627.2 L318.1,627.21 L319.35,627.21 L320.6,627.2 L321.85,627.15 L323.1,627.07 L324.35,626.93 L325.6,626.72 L326.85,626.44 L328.1,626.05 L329.35,625.56 L330.6,624.95 L331.85,624.2 L333.1,623.31 L334.35,622.27 L335.6,621.09 L336.85,619.76 L338.1,618.3 L339.35,616.72 L340.6,615.04 L341.85,613.29 L343.1,611.5 L344.35,609.7 L345.6,607.94 L346.85,606.25 L348.1,604.69 L349.35,603.28 L350.6,602.08 L351.85,601.12 L353.1,600.42 L354.35,600.01 L355.6,599.91 L356.85,600.07 L358.1,600.48 L359.35,601.11 L360.6,601.96 L361.85,603.01 L363.1,604.24 L364.35,605.63 L365.6,607.14 L366.85,608.74 L368.1,610.41 L369.35,612.12 L370.6,613.84 L371.85,615.54 L373.1,617.21 L374.35,618.82 L375.6,620.35 L376.85,621.79 L378.1,623.13 L379.35,624.37 L380.6,625.49 L381.85,626.51 L383.1,627.42 L384.35,628.22 L385.6,628.92 L386.85,629.54 L388.1,630.06 L389.35,630.51 L390.6,630.89 L391.85,631.2 L393.1,631.46 L394.35,631.68 L395.6,631.85 L396.85,632 L398.1,632.11 L399.35,632.2 L400.6,632.27 L401.85,632.33 L403.1,632.37 L404.35,632.4 L405.6,632.43 L406.85,632.45 L408.1,632.46 L409.35,632.47 L410.6,632.48 L411.85,632.49 L413.1,632.49 L414.35,632.49 L415.6,632.5 L416.85,632.5 L418.1,632.5 L419.35,632.5 L420.6,632.5 L421.85,632.5 L423.1,632.5 L424.35,632.5 L425.6,632.5 L426.85,632.5 L428.1,632.5 L429.35,632.5 L430.6,632.5 L431.85,632.5 L433.1,632.5 L434.35,632.5 L435.6,632.5 L436.85,632.5 L438.1,632.5 L438.1,632.5 L238.1,632.5Z" fill="#4C72B0" fill-opacity="0.25"/>
<path d="M238.1,632.5 L239.35,632.5 L240.6,632.5 L241.85,632.5 L243.1,632.5 L244.35,632.5 L245.6,632.5 L246.85,632.5 L248.1,632.5 L249.35,632.49 L250.6,632.49 L251.85,632.49 L253.1,632.49 L254.35,632.48 L255.6,632.48 L256.85,632.47 L258.1,632.47 L259.35,632.46 L260.6,632.45 L261.85,632.43 L263.1,632.42 L264.35,632.4 L265.6,632.37 L266.85,632.35 L268.1,632.31 L269.35,632.27 L270.6,632.23 L271.85,632.18 L273.1,632.12 L274.35,632.05 L275.6,631.97 L276.85,631.88 L278.1,631.78 L279.35,631.67 L280.6,631.55 L281.85,631.41 L283.1,631.26 L284.35,631.1 L285.6,630.93 L286.85,630.75 L288.1,630.55 L289.35,630.35 L290.6,630.13 L291.85,629.91 L293.1,629.68 L294.35,629.45 L295.6,629.22 L296.85,628.99 L298.1,628.76 L299.35,628.54 L300.6,628.33 L301.85,628.13 L303.1,627.95 L304.35,627.78 L305.6,627.63 L306.85,627.51 L308.1,627.4 L309.35,627.32 L310.6,627.25 L311.85,627.21 L313.1,627.19 L314.35,627.18 L315.6,627.19 L316.85,627.2 L318.1,627.21 L319.35,627.21 L320.6,627.2 L321.85,627.15 L323.1,627.07 L324.35,626.93 L325.6,626.72 L326.85,626.44 L328.1,626.05 L329.35,625.56 L330.6,624.95 L331.85,624.2 L333.1,623.31 L334.35,622.27 L335.6,621.09 L336.85,619.76 L338.1,618.3 L339.35,616.72 L340.6,615.04 L341.85,613.29 L343.1,611.5 L344.35,609.7 L345.6,607.94 L346.85,606.25 L348.1,604.69 L349.35,603.28 L350.6,602.08 L351.85,601.12 L353.1,600.42 L354.35,600.01 L355.6,599.91 L356.85,600.07 L358.1,600.48 L359.35,601.11 L360.6,601.96 L361.85,603.01 L363.1,604.24 L364.35,605.63 L365.6,607.14 L366.85,608.74 L368.1,610.41 L369.35,612.12 L370.6,613.84 L371.85,615.54 L373.1,617.21 L374.35,618.82 L375.6,620.35 L376.85,621.79 L378.1,623.13 L379.35,624.37 L380.6,625.49 L381.85,626.51 L383.1,627.42 L384.35,628.22 L385.6,628.92 L386.85,629.54 L388.1,630.06 L389.35,630.51 L390.6,630.89 L391.85,631.2 L393.1,631.46 L394.35,631.68 L395.6,631.85 L396.85,632 L398.1,632.11 L399.35,632.2 L400.6,632.27 L401.85,632.33 L403.1,632.37 L404.35,632.4 L405.6,632.43 L406.85,632.45 L408.1,632.46 L409.35,632.47 L410.6,632.48 L411.85,632.49 L413.1,632.49 L414.35,632.49 L415.6,632.5 L416.85,632.5 L418.1,632.5 L419.35,632.5 L420.6,632.5 L421.85,632.5 L423.1,632.5 L424.35,632.5 L425.6,632.5 L426.85,632.5 L428.1,632.5 L429.35,632.5 L430.6,632.5 L431.85,632.5 L433.1,632.5 L434.35,632.5 L435.6,632.5 L436.85,632.5 L438.1,632.5" fill="none" stroke="#6a86c2" stroke-width="1.0"/>
<path d="M238.1,632.5 L239.35,632.5 L240.6,632.5 L241.85,632.5 L243.1,632.5 L244.35,632.5 L245.6,632.5 L246.85,632.5 L248.1,632.5 L249.35,632.5 L250.6,632.5 L251.85,632.5 L253.1,632.5 L254.35,632.5 L255.6,632.49 L256.85,632.49 L258.1,632.49 L259.35,632.49 L260.6,632.48 L261.85,632.48 L263.1,632.47 L264.35,632.46 L265.6,632.46 L266.85,632.44 L268.1,632.43 L269.35,632.41 L270.6,632.4 L271.85,632.37 L273.1,632.34 L274.35,632.31 L275.6,632.27 L276.85,632.23 L278.1,632.18 L279.35,632.12 L280.6,632.06 L281.85,631.99 L283.1,631.91 L284.35,631.82 L285.6,631.72 L286.85,631.61 L288.1,631.49 L289.35,631.36 L290.6,631.22 L291.85,631.08 L293.1,630.92 L294.35,630.76 L295.6,630.59 L296.85,630.41 L298.1,630.22 L299.35,630.03 L300.6,629.83 L301.85,629.63 L303.1,629.43 L304.35,629.22 L305.6,629 L306.85,628.78 L308.1,628.56 L309.35,628.33 L310.6,628.09 L311.85,627.85 L313.1,627.59 L314.35,627.33 L315.6,627.05 L316.85,626.75 L318.1,626.44 L319.35,626.11 L320.6,625.76 L321.85,625.39 L323.1,625 L324.35,624.58 L325.6,624.14 L326.85,623.67 L328.1,623.19 L329.35,622.69 L330.6,622.17 L331.85,621.64 L333.1,621.1 L334.35,620.55 L335.6,620.01 L336.85,619.47 L338.1,618.95 L339.35,618.45 L340.6,617.97 L341.85,617.53 L343.1,617.13 L344.35,616.78 L345.6,616.47 L346.85,616.22 L348.1,616.04 L349.35,615.92 L350.6,615.86 L351.85,615.87 L353.1,615.96 L354.35,616.11 L355.6,616.33 L356.85,616.61 L358.1,616.96 L359.35,617.37 L360.6,617.83 L361.85,618.34 L363.1,618.89 L364.35,619.47 L365.6,620.09 L366.85,620.73 L368.1,621.38 L369.35,622.05 L370.6,622.72 L371.85,623.39 L373.1,624.05 L374.35,624.69 L375.6,625.32 L376.85,625.93 L378.1,626.51 L379.35,627.07 L380.6,627.59 L381.85,628.09 L383.1,628.55 L384.35,628.98 L385.6,629.38 L386.85,629.74 L388.1,630.08 L389.35,630.38 L390.6,630.65 L391.85,630.89 L393.1,631.11 L394.35,631.31 L395.6,631.48 L396.85,631.63 L398.1,631.76 L399.35,631.88 L400.6,631.98 L401.85,632.06 L403.1,632.13 L404.35,632.2 L405.6,632.25 L406.85,632.29 L408.1,632.33 L409.35,632.36 L410.6,632.39 L411.85,632.41 L413.1,632.43 L414.35,632.44 L415.6,632.45 L416.85,632.46 L418.1,632.47 L419.35,632.48 L420.6,632.48 L421.85,632.49 L423.1,632.49 L424.35,632.49 L425.6,632.49 L426.85,632.5 L428.1,632.5 L429.35,632.5 L430.6,632.5 L431.85,632.5 L433.1,632.5 L434.35,632.5 L435.6,632.5 L436.85,632.5 L438.1,632.5 L438.1,632.5 L238.1,632.5Z" fill="#C44E52" fill-opacity="0.25"/>
<path d="M238.1,632.5 L239.35,632.5 L240.6,632.5 L241.85,632.5 L243.1,632.5 L244.35,632.5 L245.6,632.5 L246.85,632.5 L248.1,632.5 L249.35,632.5 L250.6,632.5 L251.85,632.5 L253.1,632.5 L254.35,632.5 L255.6,632.49 L256.85,632.49 L258.1,632.49 L259.35,632.49 L260.6,632.48 L261.85,632.48 L263.1,632.47 L264.35,632.46 L265.6,632.46 L266.85,632.44 L268.1,632.43 L269.35,632.41 L270.6,632.4 L271.85,632.37 L273.1,632.34 L274.35,632.31 L275.6,632.27 L276.85,632.23 L278.1,632.18 L279.35,632.12 L280.6,632.06 L281.85,631.99 L283.1,631.91 L284.35,631.82 L285.6,631.72 L286.85,631.61 L288.1,631.49 L289.35,631.36 L290.6,631.22 L291.85,631.08 L293.1,630.92 L294.35,630.76 L295.6,630.59 L296.85,630.41 L298.1,630.22 L299.35,630.03 L300.6,629.83 L301.85,629.63 L303.1,629.43 L304.35,629.22 L305.6,629 L306.85,628.78 L308.1,628.56 L309.35,628.33 L310.6,628.09 L311.85,627.85 L313.1,627.59 L314.35,627.33 L315.6,627.05 L316.85,626.75 L318.1,626.44 L319.35,626.11 L320.6,625.76 L321.85,625.39 L323.1,625 L324.35,624.58 L325.6,624.14 L326.85,623.67 L328.1,623.19 L329.35,622.69 L330.6,622.17 L331.85,621.64 L333.1,621.1 L334.35,620.55 L335.6,620.01 L336.85,619.47 L338.1,618.95 L339.35,618.45 L340.6,617.97 L341.85,617.53 L343.1,617.13 L344.35,616.78 L345.6,616.47 L346.85,616.22 L348.1,616.04 L349.35,615.92 L350.6,615.86 L351.85,615.87 L353.1,615.96 L354.35,616.11 L355.6,616.33 L356.85,616.61 L358.1,616.96 L359.35,617.37 L360.6,617.83 L361.85,618.34 L363.1,618.89 L364.35,619.47 L365.6,620.09 L366.85,620.73 L368.1,621.38 L369.35,622.05 L370.6,622.72 L371.85,623.39 L373.1,624.05 L374.35,624.69 L375.6,625.32 L376.85,625.93 L378.1,626.51 L379.35,627.07 L380.6,627.59 L381.85,628.09 L383.1,628.55 L384.35,628.98 L385.6,629.38 L386.85,629.74 L388.1,630.08 L389.35,630.38 L390.6,630.65 L391.85,630.89 L393.1,631.11 L394.35,631.31 L395.6,631.48 L396.85,631.63 L398.1,631.76 L399.35,631.88 L400.6,631.98 L401.85,632.06 L403.1,632.13 L404.35,632.2 L405.6,632.25 L406.85,632.29 L408.1,632.33 L409.35,632.36 L410.6,632.39 L411.85,632.41 L413.1,632.43 L414.35,632.44 L415.6,632.45 L416.85,632.46 L418.1,632.47 L419.35,632.48 L420.6,632.48 L421.85,632.49 L423.1,632.49 L424.35,632.49 L425.6,632.49 L426.85,632.5 L428.1,632.5 L429.35,632.5 L430.6,632.5 L431.85,632.5 L433.1,632.5 L434.35,632.5 L435.6,632.5 L436.85,632.5 L438.1,632.5" fill="none" stroke="#c8707c" stroke-width="1.0"/>
<line x1="238.1" y1="632.5" x2="438.1" y2="632.5" stroke="#4a4a4a" stroke-width="1.2" />
<path d="M302.8,747 L304.66,746.98 L306.52,746.95 L308.38,746.93 L310.24,746.9 L312.1,746.87 L313.96,746.83 L315.82,746.8 L317.68,746.76 L319.54,746.72 L321.4,746.67 L323.26,746.62 L325.12,746.56 L326.98,746.5 L328.84,746.42 L330.7,746.34 L332.56,746.25 L334.42,746.15 L336.28,746.02 L338.14,745.88 L340,745.71 L341.86,745.51 L343.72,745.26 L345.58,744.96 L347.44,744.59 L349.3,744.13 L351.16,743.54 L353.02,742.81 L354.88,741.91 L356.74,740.82 L358.6,739.55 L360.46,738.12 L362.32,736.55 L364.18,734.87 L366.04,733.1 L367.9,731.26 L369.76,729.37 L371.62,727.44 L373.48,725.49 L375.34,723.5 L377.2,721.5 L377.2,750.4 L375.34,750.76 L373.48,751.14 L371.62,751.52 L369.76,751.9 L367.9,752.3 L366.04,752.72 L364.18,753.14 L362.32,753.59 L360.46,754.05 L358.6,754.55 L356.74,755.07 L354.88,755.63 L353.02,756.24 L351.16,756.9 L349.3,757.62 L347.44,758.43 L345.58,759.31 L343.72,760.29 L341.86,761.36 L340,762.53 L338.14,763.78 L336.28,765.12 L334.42,766.53 L332.56,768.01 L330.7,769.53 L328.84,771.1 L326.98,772.71 L325.12,774.34 L323.26,776 L321.4,777.68 L319.54,779.38 L317.68,781.09 L315.82,782.81 L313.96,784.55 L312.1,786.29 L310.24,788.04 L308.38,789.8 L306.52,791.56 L304.66,793.33 L302.8,795.1Z" fill="#4C72B0" fill-opacity="0.15"/>
<path d="M288.4,649.7 L290.89,652.8 L293.38,655.9 L295.88,658.99 L298.37,662.08 L300.86,665.16 L303.35,668.24 L305.85,671.31 L308.34,674.37 L310.83,677.43 L313.32,680.48 L315.82,683.51 L318.31,686.54 L320.8,689.55 L323.3,692.55 L325.79,695.52 L328.28,698.47 L330.77,701.39 L333.26,704.28 L335.76,707.12 L338.25,709.91 L340.74,712.62 L343.24,715.25 L345.73,717.76 L348.22,720.12 L350.71,722.28 L353.21,724.18 L355.7,725.76 L358.19,726.95 L360.68,727.7 L363.18,728.01 L365.67,727.9 L368.16,727.43 L370.65,726.67 L373.14,725.68 L375.64,724.52 L378.13,723.22 L380.62,721.82 L383.12,720.34 L385.61,718.79 L388.1,717.2 L388.1,783.7 L385.61,781.18 L383.12,778.68 L380.62,776.2 L378.13,773.75 L375.64,771.32 L373.14,768.92 L370.65,766.57 L368.16,764.27 L365.67,762.03 L363.18,759.88 L360.68,757.84 L358.19,755.94 L355.7,754.21 L353.21,752.71 L350.71,751.48 L348.22,750.56 L345.73,749.97 L343.24,749.71 L340.74,749.76 L338.25,750.05 L335.76,750.56 L333.26,751.24 L330.77,752.04 L328.28,752.95 L325.79,753.93 L323.3,754.98 L320.8,756.07 L318.31,757.21 L315.82,758.38 L313.32,759.57 L310.83,760.79 L308.34,762.02 L305.85,763.27 L303.35,764.54 L300.86,765.81 L298.37,767.09 L295.88,768.38 L293.38,769.68 L290.89,770.99 L288.4,772.3Z" fill="#C44E52" fill-opacity="0.15"/>
<circle cx="350.8" cy="700.9" r="2.0" fill="#4C72B0"/>
<circle cx="352.7" cy="718.9" r="2.0" fill="#4C72B0"/>
<circle cx="355.3" cy="721.5" r="2.0" fill="#4C72B0"/>
<circle cx="361.8" cy="724.2" r="2.0" fill="#4C72B0"/>
<circle cx="372.9" cy="721.5" r="2.0" fill="#4C72B0"/>
<circle cx="359.2" cy="732" r="2.0" fill="#4C72B0"/>
<circle cx="351.5" cy="737.3" r="2.0" fill="#4C72B0"/>
<circle cx="348" cy="743.1" r="2.0" fill="#4C72B0"/>
<circle cx="354.5" cy="748.3" r="2.0" fill="#4C72B0"/>
<circle cx="359.2" cy="748.3" r="2.0" fill="#4C72B0"/>
<circle cx="370.7" cy="748.3" r="2.0" fill="#4C72B0"/>
<circle cx="349.7" cy="751.7" r="2.0" fill="#4C72B0"/>
<circle cx="377.2" cy="756.2" r="2.0" fill="#4C72B0"/>
<circle cx="365" cy="761.8" r="2.0" fill="#4C72B0"/>
<circle cx="341.3" cy="764.5" r="2.0" fill="#4C72B0"/>
<circle cx="317.1" cy="767.1" r="2.0" fill="#4C72B0"/>
<circle cx="364.6" cy="775.3" r="2.0" fill="#4C72B0"/>
<circle cx="302.8" cy="780.6" r="2.0" fill="#4C72B0"/>
<circle cx="326.8" cy="780.6" r="2.0" fill="#4C72B0"/>
<circle cx="339" cy="783.2" r="2.0" fill="#4C72B0"/>
<circle cx="355.3" cy="783.2" r="2.0" fill="#4C72B0"/>
<circle cx="288.4" cy="726.8" r="2.0" fill="#C44E52"/>
<circle cx="338.2" cy="697.4" r="2.0" fill="#C44E52"/>
<circle cx="350.1" cy="716.3" r="2.0" fill="#C44E52"/>
<circle cx="356.6" cy="716.3" r="2.0" fill="#C44E52"/>
<circle cx="346.6" cy="724.2" r="2.0" fill="#C44E52"/>
<circle cx="354.8" cy="724.2" r="2.0" fill="#C44E52"/>
<circle cx="366.7" cy="732" r="2.0" fill="#C44E52"/>
<circle cx="344.5" cy="734.7" r="2.0" fill="#C44E52"/>
<circle cx="354.8" cy="740.5" r="2.0" fill="#C44E52"/>
<circle cx="327.3" cy="764.5" r="2.0" fill="#C44E52"/>
<circle cx="387.6" cy="761.8" r="2.0" fill="#C44E52"/>
<circle cx="352.7" cy="777.9" r="2.0" fill="#C44E52"/>
<circle cx="354.8" cy="786" r="2.0" fill="#C44E52"/>
<line x1="302.8" y1="777.6" x2="377.2" y2="735.2" stroke="#4C72B0" stroke-width="1.8" />
<line x1="288.4" y1="723.3" x2="388.1" y2="748.7" stroke="#C44E52" stroke-width="1.8" />
<polyline points="238.9,639.2 238.9,842 438.2,842" fill="none" stroke="#707070" stroke-width="1.6"/>
<path d="M444.5,655 C444.53,657.22 444.28,663.37 444.7,668.3 C445.12,673.23 445.45,679.17 447,684.6 C448.55,690.03 451.48,696.25 454,700.9 C456.52,705.55 459.4,708.23 462.1,712.5 C464.8,716.77 467.88,721.85 470.2,726.5 C472.52,731.15 474.83,735.75 476,740.4 C477.17,745.05 477.38,749.35 477.2,754.4 C477.02,759.45 476.45,766.03 474.9,770.7 C473.35,775.37 470.62,778.9 467.9,782.4 C465.18,785.9 461.5,788.6 458.6,791.7 C455.7,794.8 452.52,797.9 450.5,801 C448.48,804.1 447.47,807.2 446.5,810.3 C445.53,813.4 445.03,817.15 444.7,819.6 C444.37,822.05 444.53,824.1 444.5,825 L444.5,825 L444.5,655Z" fill="#4C72B0" fill-opacity="0.25" stroke="none"/>
<path d="M444.5,655 C444.53,657.22 444.28,663.37 444.7,668.3 C445.12,673.23 445.45,679.17 447,684.6 C448.55,690.03 451.48,696.25 454,700.9 C456.52,705.55 459.4,708.23 462.1,712.5 C464.8,716.77 467.88,721.85 470.2,726.5 C472.52,731.15 474.83,735.75 476,740.4 C477.17,745.05 477.38,749.35 477.2,754.4 C477.02,759.45 476.45,766.03 474.9,770.7 C473.35,775.37 470.62,778.9 467.9,782.4 C465.18,785.9 461.5,788.6 458.6,791.7 C455.7,794.8 452.52,797.9 450.5,801 C448.48,804.1 447.47,807.2 446.5,810.3 C445.53,813.4 445.03,817.15 444.7,819.6 C444.37,822.05 444.53,824.1 444.5,825" fill="none" stroke="#6a86c2" stroke-width="1.0"/>
<path d="M444.5,650 C444.53,651.88 444.37,656.32 444.7,661.3 C445.03,666.28 445.15,673.7 446.5,679.9 C447.85,686.1 450.2,693.07 452.8,698.5 C455.4,703.93 459.78,708.23 462.1,712.5 C464.42,716.77 466.12,720.6 466.7,724.1 C467.28,727.6 466.75,729.62 465.6,733.5 C464.45,737.38 461.35,743.13 459.8,747.4 C458.25,751.67 457.27,754.05 456.3,759.1 C455.33,764.15 455.17,771.88 454,777.7 C452.83,783.52 450.67,788.95 449.3,794 C447.93,799.05 446.57,803.73 445.8,808 C445.03,812.27 444.92,816.27 444.7,819.6 C444.48,822.93 444.53,826.6 444.5,828 L444.5,828 L444.5,650Z" fill="#C44E52" fill-opacity="0.25" stroke="none"/>
<path d="M444.5,650 C444.53,651.88 444.37,656.32 444.7,661.3 C445.03,666.28 445.15,673.7 446.5,679.9 C447.85,686.1 450.2,693.07 452.8,698.5 C455.4,703.93 459.78,708.23 462.1,712.5 C464.42,716.77 466.12,720.6 466.7,724.1 C467.28,727.6 466.75,729.62 465.6,733.5 C464.45,737.38 461.35,743.13 459.8,747.4 C458.25,751.67 457.27,754.05 456.3,759.1 C455.33,764.15 455.17,771.88 454,777.7 C452.83,783.52 450.67,788.95 449.3,794 C447.93,799.05 446.57,803.73 445.8,808 C445.03,812.27 444.92,816.27 444.7,819.6 C444.48,822.93 444.53,826.6 444.5,828" fill="none" stroke="#c8707c" stroke-width="1.0"/>
<line x1="444.5" y1="639.4" x2="444.5" y2="842" stroke="#4a4a4a" stroke-width="1.3" />
<text x="232" y="654.51" font-size="8.2" text-anchor="end" fill="#555" letter-spacing="0.25" stroke="#555" stroke-width="0.12">30</text>
<text x="232" y="681.44" font-size="8.2" text-anchor="end" fill="#555" letter-spacing="0.25" stroke="#555" stroke-width="0.12">20</text>
<text x="232" y="708.37" font-size="8.2" text-anchor="end" fill="#555" letter-spacing="0.25" stroke="#555" stroke-width="0.12">10</text>
<text x="232" y="735.3" font-size="8.2" text-anchor="end" fill="#555" letter-spacing="0.25" stroke="#555" stroke-width="0.12">0</text>
<text x="232" y="762.23" font-size="8.2" text-anchor="end" fill="#555" letter-spacing="0.25" stroke="#555" stroke-width="0.12">−10</text>
<text x="232" y="789.16" font-size="8.2" text-anchor="end" fill="#555" letter-spacing="0.25" stroke="#555" stroke-width="0.12">−20</text>
<text x="232" y="816.09" font-size="8.2" text-anchor="end" fill="#555" letter-spacing="0.25" stroke="#555" stroke-width="0.12">−30</text>
<text x="232" y="843.02" font-size="8.2" text-anchor="end" fill="#555" letter-spacing="0.25" stroke="#555" stroke-width="0.12">−40</text>
<text x="257.7" y="853.5" font-size="8.2" text-anchor="middle" fill="#555" letter-spacing="0.25" stroke="#555" stroke-width="0.12">−1.0</text>
<text x="279.78" y="853.5" font-size="8.2" text-anchor="middle" fill="#555" letter-spacing="0.25" stroke="#555" stroke-width="0.12">−0.8</text>
<text x="301.86" y="853.5" font-size="8.2" text-anchor="middle" fill="#555" letter-spacing="0.25" stroke="#555" stroke-width="0.12">−0.6</text>
<text x="323.94" y="853.5" font-size="8.2" text-anchor="middle" fill="#555" letter-spacing="0.25" stroke="#555" stroke-width="0.12">−0.4</text>
<text x="346.02" y="853.5" font-size="8.2" text-anchor="middle" fill="#555" letter-spacing="0.25" stroke="#555" stroke-width="0.12">−0.2</text>
<text x="368.1" y="853.5" font-size="8.2" text-anchor="middle" fill="#555" letter-spacing="0.25" stroke="#555" stroke-width="0.12">0.0</text>
<text x="390.18" y="853.5" font-size="8.2" text-anchor="middle" fill="#555" letter-spacing="0.25" stroke="#555" stroke-width="0.12">0.2</text>
<text x="412.26" y="853.5" font-size="8.2" text-anchor="middle" fill="#555" letter-spacing="0.25" stroke="#555" stroke-width="0.12">0.4</text>
<text x="434.34" y="853.5" font-size="8.2" text-anchor="middle" fill="#555" letter-spacing="0.25" stroke="#555" stroke-width="0.12">0.6</text>
<text x="344" y="867.7" font-size="10.6" text-anchor="middle" fill="#505050" >Amyg-EFP Delta (Mean All Sessions)</text>
<text x="0" y="0" font-size="10.8" text-anchor="middle" fill="#505050" transform="translate(211.3,742) rotate(-90)" >STAI-T Score (FU-Pre)</text>
<rect x="376.3" y="638.4" width="62.4" height="34.1" fill="none" stroke="#dfacb3" stroke-width="1"/>
<text x="407.5" y="652.1" font-size="10" text-anchor="middle" fill="#222" >R= -0.219</text>
<text x="407.5" y="665.4" font-size="10" text-anchor="middle" fill="#222" ><tspan font-style="italic">P</tspan> = 0.473</text>
<rect x="242.4" y="804.6" width="63" height="33.9" fill="none" stroke="#b3bdda" stroke-width="1"/>
<text x="273.9" y="818.2" font-size="10" text-anchor="middle" fill="#222" >R= 0.433</text>
<text x="273.9" y="831.5" font-size="10" text-anchor="middle" fill="#222" ><tspan font-style="italic">P</tspan> = 0.05</text>
<line x1="0" y1="312.4" x2="683" y2="312.4" stroke="#8a8a8a" stroke-width="1.1" />
<line x1="0.55" y1="1" x2="0.55" y2="889" stroke="#a8a8a8" stroke-width="1.1" />
<line x1="0" y1="2" x2="684" y2="2" stroke="#c6c6c6" stroke-width="1.7" />
<line x1="683.1" y1="1" x2="683.1" y2="888" stroke="#c6c6c6" stroke-width="1.8" />
<line x1="0" y1="888.3" x2="684" y2="888.3" stroke="#9a9a9a" stroke-width="1.5" />
</svg></body></html>
